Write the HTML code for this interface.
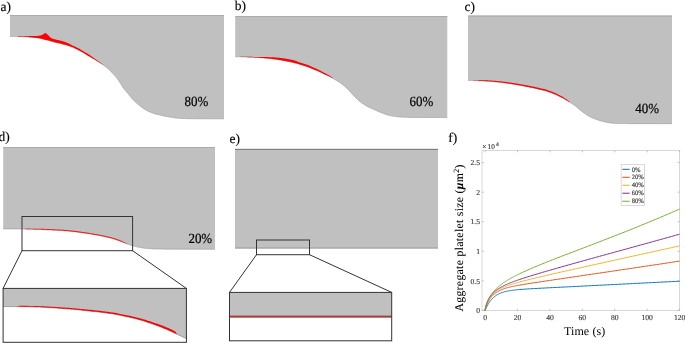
<!DOCTYPE html>
<html><head><meta charset="utf-8"><style>
html,body{margin:0;padding:0;background:#fff;}
body{width:685px;height:343px;overflow:hidden;}
svg{display:block;will-change:transform;}
text{text-rendering:geometricPrecision;}
</style></head><body>
<svg width="685" height="343" viewBox="0 0 685 343">
<path d="M10,15 L224,15 L224,118.80 L224.00,118.80 L223.14,118.80 L222.09,118.80 L220.86,118.80 L219.48,118.80 L217.97,118.81 L216.36,118.81 L214.68,118.81 L212.94,118.81 L211.17,118.81 L209.40,118.81 L207.64,118.81 L205.93,118.81 L204.29,118.81 L202.73,118.81 L201.30,118.81 L200.00,118.80 L198.80,118.79 L197.63,118.79 L196.50,118.78 L195.41,118.77 L194.35,118.76 L193.32,118.74 L192.33,118.73 L191.38,118.72 L190.46,118.71 L189.57,118.69 L188.72,118.68 L187.91,118.66 L187.13,118.65 L186.38,118.63 L185.67,118.62 L185.00,118.60 L184.38,118.58 L183.81,118.57 L183.30,118.55 L182.84,118.54 L182.42,118.52 L182.04,118.50 L181.69,118.49 L181.36,118.47 L181.06,118.45 L180.77,118.43 L180.48,118.41 L180.20,118.39 L179.92,118.37 L179.63,118.35 L179.33,118.32 L179.00,118.30 L178.67,118.27 L178.34,118.25 L178.02,118.22 L177.71,118.20 L177.41,118.17 L177.11,118.14 L176.81,118.11 L176.52,118.08 L176.23,118.05 L175.94,118.02 L175.65,117.99 L175.36,117.95 L175.08,117.92 L174.79,117.88 L174.50,117.84 L174.20,117.80 L173.90,117.76 L173.61,117.71 L173.31,117.67 L173.02,117.62 L172.73,117.57 L172.43,117.52 L172.14,117.47 L171.85,117.42 L171.56,117.37 L171.27,117.31 L170.97,117.26 L170.68,117.21 L170.39,117.15 L170.09,117.10 L169.80,117.05 L169.50,117.00 L169.20,116.95 L168.90,116.90 L168.60,116.85 L168.30,116.81 L168.00,116.76 L167.70,116.71 L167.40,116.67 L167.10,116.62 L166.80,116.57 L166.50,116.52 L166.20,116.47 L165.90,116.42 L165.60,116.37 L165.30,116.31 L165.00,116.26 L164.70,116.20 L164.40,116.14 L164.11,116.08 L163.81,116.01 L163.51,115.94 L163.21,115.88 L162.92,115.81 L162.62,115.73 L162.32,115.66 L162.03,115.59 L161.74,115.52 L161.44,115.45 L161.15,115.37 L160.86,115.30 L160.57,115.23 L160.29,115.17 L160.00,115.10 L159.72,115.04 L159.43,114.97 L159.16,114.91 L158.88,114.85 L158.60,114.80 L158.32,114.74 L158.05,114.68 L157.78,114.62 L157.50,114.57 L157.23,114.51 L156.96,114.45 L156.69,114.38 L156.41,114.32 L156.14,114.25 L155.87,114.18 L155.60,114.10 L155.33,114.02 L155.06,113.94 L154.79,113.86 L154.52,113.77 L154.25,113.68 L153.98,113.60 L153.72,113.51 L153.45,113.41 L153.18,113.32 L152.92,113.22 L152.65,113.12 L152.38,113.02 L152.11,112.92 L151.84,112.81 L151.57,112.71 L151.30,112.60 L151.03,112.49 L150.75,112.38 L150.48,112.27 L150.21,112.15 L149.93,112.04 L149.66,111.92 L149.38,111.80 L149.11,111.67 L148.83,111.55 L148.55,111.42 L148.28,111.29 L148.00,111.16 L147.73,111.03 L147.45,110.89 L147.18,110.75 L146.90,110.60 L146.62,110.45 L146.35,110.30 L146.07,110.15 L145.80,109.99 L145.53,109.83 L145.25,109.67 L144.97,109.51 L144.70,109.34 L144.43,109.17 L144.15,109.00 L143.88,108.83 L143.60,108.65 L143.33,108.47 L143.05,108.28 L142.78,108.09 L142.50,107.90 L142.22,107.70 L141.95,107.50 L141.67,107.30 L141.40,107.09 L141.12,106.88 L140.85,106.66 L140.57,106.45 L140.29,106.23 L140.02,106.00 L139.74,105.78 L139.47,105.55 L139.19,105.32 L138.92,105.09 L138.65,104.86 L138.37,104.63 L138.10,104.40 L137.83,104.17 L137.55,103.93 L137.28,103.69 L137.00,103.45 L136.72,103.21 L136.45,102.97 L136.17,102.72 L135.89,102.47 L135.62,102.23 L135.35,101.98 L135.08,101.73 L134.82,101.48 L134.56,101.24 L134.30,100.99 L134.05,100.74 L133.80,100.50 L133.56,100.26 L133.32,100.01 L133.08,99.76 L132.85,99.52 L132.62,99.27 L132.39,99.02 L132.17,98.77 L131.95,98.53 L131.73,98.28 L131.52,98.03 L131.31,97.79 L131.10,97.55 L130.90,97.31 L130.69,97.07 L130.50,96.83 L130.30,96.60 L130.11,96.37 L129.93,96.15 L129.76,95.93 L129.59,95.71 L129.43,95.50 L129.27,95.29 L129.12,95.08 L128.96,94.87 L128.81,94.66 L128.65,94.45 L128.49,94.23 L128.33,94.01 L128.16,93.79 L127.98,93.57 L127.79,93.34 L127.60,93.10 L127.40,92.86 L127.18,92.62 L126.97,92.38 L126.74,92.13 L126.51,91.89 L126.28,91.64 L126.04,91.39 L125.80,91.13 L125.56,90.87 L125.32,90.61 L125.08,90.34 L124.83,90.06 L124.60,89.78 L124.36,89.50 L124.13,89.20 L123.90,88.90 L123.68,88.59 L123.46,88.27 L123.24,87.94 L123.03,87.60 L122.81,87.26 L122.60,86.91 L122.39,86.56 L122.17,86.20 L121.96,85.84 L121.75,85.48 L121.53,85.11 L121.31,84.75 L121.09,84.38 L120.86,84.02 L120.63,83.66 L120.40,83.30 L120.16,82.94 L119.92,82.58 L119.68,82.22 L119.44,81.86 L119.20,81.50 L118.95,81.14 L118.71,80.78 L118.46,80.41 L118.20,80.05 L117.94,79.68 L117.68,79.32 L117.42,78.95 L117.15,78.59 L116.87,78.23 L116.59,77.86 L116.30,77.50 L116.01,77.14 L115.71,76.77 L115.40,76.40 L115.09,76.04 L114.78,75.67 L114.46,75.30 L114.13,74.93 L113.81,74.56 L113.48,74.20 L113.14,73.83 L112.81,73.47 L112.47,73.11 L112.13,72.75 L111.79,72.40 L111.44,72.05 L111.10,71.70 L110.75,71.35 L110.39,71.01 L110.03,70.66 L109.66,70.31 L109.29,69.96 L108.91,69.62 L108.53,69.28 L108.16,68.94 L107.78,68.60 L107.41,68.28 L107.04,67.96 L106.67,67.65 L106.32,67.34 L105.97,67.05 L105.63,66.77 L105.30,66.50 L104.98,66.24 L104.67,66.00 L104.37,65.76 L104.07,65.54 L103.78,65.33 L103.50,65.12 L103.21,64.92 L102.94,64.72 L102.66,64.54 L102.39,64.35 L102.13,64.17 L101.86,64.00 L101.59,63.82 L101.33,63.65 L101.07,63.47 L100.80,63.30 L100.54,63.13 L100.28,62.96 L100.02,62.80 L99.77,62.65 L99.52,62.49 L99.27,62.35 L99.02,62.20 L98.77,62.06 L98.53,61.91 L98.29,61.77 L98.04,61.63 L97.80,61.49 L97.55,61.34 L97.30,61.20 L97.05,61.05 L96.80,60.90 L96.55,60.75 L96.29,60.59 L96.04,60.44 L95.78,60.28 L95.53,60.12 L95.27,59.97 L95.01,59.81 L94.76,59.65 L94.50,59.49 L94.24,59.33 L93.98,59.18 L93.73,59.02 L93.47,58.86 L93.21,58.71 L92.96,58.55 L92.70,58.40 L92.44,58.25 L92.19,58.10 L91.93,57.95 L91.68,57.80 L91.42,57.65 L91.16,57.50 L90.91,57.35 L90.65,57.20 L90.39,57.05 L90.14,56.90 L89.88,56.75 L89.62,56.60 L89.37,56.45 L89.11,56.30 L88.86,56.15 L88.60,56.00 L88.34,55.85 L88.09,55.69 L87.83,55.54 L87.57,55.38 L87.32,55.22 L87.06,55.07 L86.81,54.91 L86.55,54.75 L86.29,54.59 L86.04,54.43 L85.78,54.28 L85.53,54.12 L85.27,53.96 L85.01,53.81 L84.76,53.65 L84.50,53.50 L84.24,53.35 L83.99,53.19 L83.73,53.04 L83.48,52.89 L83.22,52.73 L82.96,52.58 L82.71,52.43 L82.45,52.28 L82.19,52.12 L81.94,51.97 L81.68,51.82 L81.42,51.68 L81.17,51.53 L80.91,51.38 L80.66,51.24 L80.40,51.10 L80.14,50.96 L79.89,50.82 L79.63,50.68 L79.37,50.55 L79.12,50.41 L78.86,50.28 L78.60,50.14 L78.34,50.01 L78.09,49.88 L77.83,49.75 L77.57,49.62 L77.32,49.50 L77.06,49.37 L76.81,49.25 L76.55,49.12 L76.30,49.00 L76.05,48.88 L75.81,48.76 L75.58,48.65 L75.35,48.54 L75.12,48.43 L74.89,48.32 L74.67,48.21 L74.44,48.11 L74.20,48.00 L73.96,47.89 L73.72,47.78 L73.46,47.67 L73.19,47.56 L72.91,47.44 L72.61,47.32 L72.30,47.20 L71.97,47.07 L71.62,46.94 L71.26,46.80 L70.88,46.66 L70.49,46.52 L70.09,46.37 L69.69,46.23 L69.27,46.08 L68.86,45.94 L68.44,45.79 L68.02,45.65 L67.61,45.51 L67.20,45.37 L66.79,45.24 L66.39,45.12 L66.00,45.00 L65.62,44.89 L65.24,44.78 L64.86,44.68 L64.49,44.58 L64.12,44.48 L63.75,44.39 L63.38,44.30 L63.01,44.21 L62.64,44.13 L62.27,44.04 L61.90,43.95 L61.53,43.87 L61.15,43.78 L60.77,43.69 L60.39,43.60 L60.00,43.50 L59.61,43.40 L59.21,43.30 L58.80,43.21 L58.39,43.11 L57.98,43.01 L57.57,42.91 L57.15,42.81 L56.74,42.71 L56.32,42.61 L55.91,42.50 L55.50,42.40 L55.09,42.30 L54.68,42.20 L54.28,42.10 L53.89,42.00 L53.50,41.90 L53.12,41.80 L52.74,41.70 L52.37,41.60 L52.00,41.50 L51.64,41.39 L51.28,41.29 L50.92,41.19 L50.56,41.09 L50.21,40.99 L49.85,40.89 L49.50,40.79 L49.14,40.69 L48.78,40.59 L48.43,40.49 L48.06,40.39 L47.70,40.30 L47.33,40.21 L46.97,40.11 L46.60,40.02 L46.23,39.93 L45.86,39.84 L45.49,39.75 L45.12,39.66 L44.75,39.57 L44.38,39.48 L44.01,39.39 L43.64,39.31 L43.27,39.22 L42.90,39.14 L42.53,39.06 L42.17,38.98 L41.80,38.90 L41.44,38.82 L41.10,38.75 L40.77,38.67 L40.45,38.60 L40.14,38.53 L39.82,38.46 L39.51,38.39 L39.19,38.32 L38.86,38.25 L38.51,38.18 L38.16,38.12 L37.78,38.05 L37.38,37.99 L36.95,37.93 L36.49,37.86 L36.00,37.80 L35.47,37.74 L34.90,37.67 L34.30,37.61 L33.66,37.55 L33.01,37.48 L32.33,37.42 L31.63,37.36 L30.93,37.30 L30.22,37.24 L29.51,37.18 L28.81,37.13 L28.11,37.08 L27.42,37.03 L26.76,36.98 L26.12,36.94 L25.50,36.90 L24.90,36.86 L24.31,36.83 L23.73,36.80 L23.15,36.78 L22.58,36.75 L22.02,36.73 L21.47,36.71 L20.92,36.69 L20.38,36.68 L19.84,36.66 L19.32,36.65 L18.80,36.64 L18.29,36.63 L17.78,36.62 L17.29,36.61 L16.80,36.60 L16.31,36.59 L15.81,36.59 L15.31,36.58 L14.81,36.58 L14.31,36.58 L13.81,36.58 L13.33,36.58 L12.86,36.58 L12.40,36.58 L11.97,36.59 L11.56,36.59 L11.18,36.59 L10.83,36.60 L10.51,36.60 L10.23,36.60 L10.00,36.60 Z" fill="#c0c0c0"/>
<rect x="10" y="15" width="214.00" height="1" fill="#ababab"/>
<path d="M10.00,36.60 L10.23,36.60 L10.51,36.60 L10.83,36.60 L11.18,36.59 L11.56,36.59 L11.97,36.59 L12.40,36.58 L12.86,36.58 L13.33,36.58 L13.81,36.58 L14.31,36.58 L14.81,36.58 L15.31,36.58 L15.81,36.59 L16.31,36.59 L16.80,36.60 L17.29,36.61 L17.78,36.62 L18.29,36.63 L18.80,36.64 L19.32,36.65 L19.84,36.66 L20.38,36.68 L20.92,36.69 L21.47,36.71 L22.02,36.73 L22.58,36.75 L23.15,36.78 L23.73,36.80 L24.31,36.83 L24.90,36.86 L25.50,36.90 L26.12,36.94 L26.76,36.98 L27.42,37.03 L28.11,37.08 L28.81,37.13 L29.51,37.18 L30.22,37.24 L30.93,37.30 L31.63,37.36 L32.33,37.42 L33.01,37.48 L33.66,37.55 L34.30,37.61 L34.90,37.67 L35.47,37.74 L36.00,37.80 L36.49,37.86 L36.95,37.93 L37.38,37.99 L37.78,38.05 L38.16,38.12 L38.51,38.18 L38.86,38.25 L39.19,38.32 L39.51,38.39 L39.82,38.46 L40.14,38.53 L40.45,38.60 L40.77,38.67 L41.10,38.75 L41.44,38.82 L41.80,38.90 L42.17,38.98 L42.53,39.06 L42.90,39.14 L43.27,39.22 L43.64,39.31 L44.01,39.39 L44.38,39.48 L44.75,39.57 L45.12,39.66 L45.49,39.75 L45.86,39.84 L46.23,39.93 L46.60,40.02 L46.97,40.11 L47.33,40.21 L47.70,40.30 L48.06,40.39 L48.43,40.49 L48.78,40.59 L49.14,40.69 L49.50,40.79 L49.85,40.89 L50.21,40.99 L50.56,41.09 L50.92,41.19 L51.28,41.29 L51.64,41.39 L52.00,41.50 L52.37,41.60 L52.74,41.70 L53.12,41.80 L53.50,41.90 L53.89,42.00 L54.28,42.10 L54.68,42.20 L55.09,42.30 L55.50,42.40 L55.91,42.50 L56.32,42.61 L56.74,42.71 L57.15,42.81 L57.57,42.91 L57.98,43.01 L58.39,43.11 L58.80,43.21 L59.21,43.30 L59.61,43.40 L60.00,43.50 L60.39,43.60 L60.77,43.69 L61.15,43.78 L61.53,43.87 L61.90,43.95 L62.27,44.04 L62.64,44.13 L63.01,44.21 L63.38,44.30 L63.75,44.39 L64.12,44.48 L64.49,44.58 L64.86,44.68 L65.24,44.78 L65.62,44.89 L66.00,45.00 L66.39,45.12 L66.79,45.24 L67.20,45.37 L67.61,45.51 L68.02,45.65 L68.44,45.79 L68.86,45.94 L69.27,46.08 L69.69,46.23 L70.09,46.37 L70.49,46.52 L70.88,46.66 L71.26,46.80 L71.62,46.94 L71.97,47.07 L72.30,47.20 L72.61,47.32 L72.91,47.44 L73.19,47.56 L73.46,47.67 L73.72,47.78 L73.96,47.89 L74.20,48.00 L74.44,48.11 L74.67,48.21 L74.89,48.32 L75.12,48.43 L75.35,48.54 L75.58,48.65 L75.81,48.76 L76.05,48.88 L76.30,49.00 L76.55,49.12 L76.81,49.25 L77.06,49.37 L77.32,49.50 L77.57,49.62 L77.83,49.75 L78.09,49.88 L78.34,50.01 L78.60,50.14 L78.86,50.28 L79.12,50.41 L79.37,50.55 L79.63,50.68 L79.89,50.82 L80.14,50.96 L80.40,51.10 L80.66,51.24 L80.91,51.38 L81.17,51.53 L81.42,51.68 L81.68,51.82 L81.94,51.97 L82.19,52.12 L82.45,52.28 L82.71,52.43 L82.96,52.58 L83.22,52.73 L83.48,52.89 L83.73,53.04 L83.99,53.19 L84.24,53.35 L84.50,53.50 L84.76,53.65 L85.01,53.81 L85.27,53.96 L85.53,54.12 L85.78,54.28 L86.04,54.43 L86.29,54.59 L86.55,54.75 L86.81,54.91 L87.06,55.07 L87.32,55.22 L87.57,55.38 L87.83,55.54 L88.09,55.69 L88.34,55.85 L88.60,56.00 L88.86,56.15 L89.11,56.30 L89.37,56.45 L89.62,56.60 L89.88,56.75 L90.14,56.90 L90.39,57.05 L90.65,57.20 L90.91,57.35 L91.16,57.50 L91.42,57.65 L91.68,57.80 L91.93,57.95 L92.19,58.10 L92.44,58.25 L92.70,58.40 L92.96,58.55 L93.21,58.71 L93.47,58.86 L93.73,59.02 L93.98,59.18 L94.24,59.33 L94.50,59.49 L94.76,59.65 L95.01,59.81 L95.27,59.97 L95.53,60.12 L95.78,60.28 L96.04,60.44 L96.29,60.59 L96.55,60.75 L96.80,60.90 L97.05,61.05 L97.30,61.20 L97.55,61.34 L97.80,61.49 L98.04,61.63 L98.29,61.77 L98.53,61.91 L98.77,62.06 L99.02,62.20 L99.27,62.35 L99.52,62.49 L99.77,62.65 L100.02,62.80 L100.28,62.96 L100.54,63.13 L100.80,63.30 L101.07,63.47 L101.33,63.65 L101.59,63.82 L101.86,64.00 L102.13,64.17 L102.39,64.35 L102.66,64.54 L102.94,64.72 L103.21,64.92 L103.50,65.12 L103.78,65.33 L104.07,65.54 L104.37,65.76 L104.67,66.00 L104.98,66.24 L105.30,66.50 L105.63,66.77 L105.97,67.05 L106.32,67.34 L106.67,67.65 L107.04,67.96 L107.41,68.28 L107.78,68.60 L108.16,68.94 L108.53,69.28 L108.91,69.62 L109.29,69.96 L109.66,70.31 L110.03,70.66 L110.39,71.01 L110.75,71.35 L111.10,71.70 L111.44,72.05 L111.79,72.40 L112.13,72.75 L112.47,73.11 L112.81,73.47 L113.14,73.83 L113.48,74.20 L113.81,74.56 L114.13,74.93 L114.46,75.30 L114.78,75.67 L115.09,76.04 L115.40,76.40 L115.71,76.77 L116.01,77.14 L116.30,77.50 L116.59,77.86 L116.87,78.23 L117.15,78.59 L117.42,78.95 L117.68,79.32 L117.94,79.68 L118.20,80.05 L118.46,80.41 L118.71,80.78 L118.95,81.14 L119.20,81.50 L119.44,81.86 L119.68,82.22 L119.92,82.58 L120.16,82.94 L120.40,83.30 L120.63,83.66 L120.86,84.02 L121.09,84.38 L121.31,84.75 L121.53,85.11 L121.75,85.48 L121.96,85.84 L122.17,86.20 L122.39,86.56 L122.60,86.91 L122.81,87.26 L123.03,87.60 L123.24,87.94 L123.46,88.27 L123.68,88.59 L123.90,88.90 L124.13,89.20 L124.36,89.50 L124.60,89.78 L124.83,90.06 L125.08,90.34 L125.32,90.61 L125.56,90.87 L125.80,91.13 L126.04,91.39 L126.28,91.64 L126.51,91.89 L126.74,92.13 L126.97,92.38 L127.18,92.62 L127.40,92.86 L127.60,93.10 L127.79,93.34 L127.98,93.57 L128.16,93.79 L128.33,94.01 L128.49,94.23 L128.65,94.45 L128.81,94.66 L128.96,94.87 L129.12,95.08 L129.27,95.29 L129.43,95.50 L129.59,95.71 L129.76,95.93 L129.93,96.15 L130.11,96.37 L130.30,96.60 L130.50,96.83 L130.69,97.07 L130.90,97.31 L131.10,97.55 L131.31,97.79 L131.52,98.03 L131.73,98.28 L131.95,98.53 L132.17,98.77 L132.39,99.02 L132.62,99.27 L132.85,99.52 L133.08,99.76 L133.32,100.01 L133.56,100.26 L133.80,100.50 L134.05,100.74 L134.30,100.99 L134.56,101.24 L134.82,101.48 L135.08,101.73 L135.35,101.98 L135.62,102.23 L135.89,102.47 L136.17,102.72 L136.45,102.97 L136.72,103.21 L137.00,103.45 L137.28,103.69 L137.55,103.93 L137.83,104.17 L138.10,104.40 L138.37,104.63 L138.65,104.86 L138.92,105.09 L139.19,105.32 L139.47,105.55 L139.74,105.78 L140.02,106.00 L140.29,106.23 L140.57,106.45 L140.85,106.66 L141.12,106.88 L141.40,107.09 L141.67,107.30 L141.95,107.50 L142.22,107.70 L142.50,107.90 L142.78,108.09 L143.05,108.28 L143.33,108.47 L143.60,108.65 L143.88,108.83 L144.15,109.00 L144.43,109.17 L144.70,109.34 L144.97,109.51 L145.25,109.67 L145.53,109.83 L145.80,109.99 L146.07,110.15 L146.35,110.30 L146.62,110.45 L146.90,110.60 L147.18,110.75 L147.45,110.89 L147.73,111.03 L148.00,111.16 L148.28,111.29 L148.55,111.42 L148.83,111.55 L149.11,111.67 L149.38,111.80 L149.66,111.92 L149.93,112.04 L150.21,112.15 L150.48,112.27 L150.75,112.38 L151.03,112.49 L151.30,112.60 L151.57,112.71 L151.84,112.81 L152.11,112.92 L152.38,113.02 L152.65,113.12 L152.92,113.22 L153.18,113.32 L153.45,113.41 L153.72,113.51 L153.98,113.60 L154.25,113.68 L154.52,113.77 L154.79,113.86 L155.06,113.94 L155.33,114.02 L155.60,114.10 L155.87,114.18 L156.14,114.25 L156.41,114.32 L156.69,114.38 L156.96,114.45 L157.23,114.51 L157.50,114.57 L157.78,114.62 L158.05,114.68 L158.32,114.74 L158.60,114.80 L158.88,114.85 L159.16,114.91 L159.43,114.97 L159.72,115.04 L160.00,115.10 L160.29,115.17 L160.57,115.23 L160.86,115.30 L161.15,115.37 L161.44,115.45 L161.74,115.52 L162.03,115.59 L162.32,115.66 L162.62,115.73 L162.92,115.81 L163.21,115.88 L163.51,115.94 L163.81,116.01 L164.11,116.08 L164.40,116.14 L164.70,116.20 L165.00,116.26 L165.30,116.31 L165.60,116.37 L165.90,116.42 L166.20,116.47 L166.50,116.52 L166.80,116.57 L167.10,116.62 L167.40,116.67 L167.70,116.71 L168.00,116.76 L168.30,116.81 L168.60,116.85 L168.90,116.90 L169.20,116.95 L169.50,117.00 L169.80,117.05 L170.09,117.10 L170.39,117.15 L170.68,117.21 L170.97,117.26 L171.27,117.31 L171.56,117.37 L171.85,117.42 L172.14,117.47 L172.43,117.52 L172.73,117.57 L173.02,117.62 L173.31,117.67 L173.61,117.71 L173.90,117.76 L174.20,117.80 L174.50,117.84 L174.79,117.88 L175.08,117.92 L175.36,117.95 L175.65,117.99 L175.94,118.02 L176.23,118.05 L176.52,118.08 L176.81,118.11 L177.11,118.14 L177.41,118.17 L177.71,118.20 L178.02,118.22 L178.34,118.25 L178.67,118.27 L179.00,118.30 L179.33,118.32 L179.63,118.35 L179.92,118.37 L180.20,118.39 L180.48,118.41 L180.77,118.43 L181.06,118.45 L181.36,118.47 L181.69,118.49 L182.04,118.50 L182.42,118.52 L182.84,118.54 L183.30,118.55 L183.81,118.57 L184.38,118.58 L185.00,118.60 L185.67,118.62 L186.38,118.63 L187.13,118.65 L187.91,118.66 L188.72,118.68 L189.57,118.69 L190.46,118.71 L191.38,118.72 L192.33,118.73 L193.32,118.74 L194.35,118.76 L195.41,118.77 L196.50,118.78 L197.63,118.79 L198.80,118.79 L200.00,118.80 L201.30,118.81 L202.73,118.81 L204.29,118.81 L205.93,118.81 L207.64,118.81 L209.40,118.81 L211.17,118.81 L212.94,118.81 L214.68,118.81 L216.36,118.81 L217.97,118.81 L219.48,118.80 L220.86,118.80 L222.09,118.80 L223.14,118.80 L224.00,118.80" fill="none" stroke="#8a8a8a" stroke-width="0.5"/>
<path d="M13.50,36.60 L14.01,36.58 L14.69,36.54 L15.51,36.50 L16.41,36.46 L17.35,36.41 L18.29,36.37 L19.19,36.33 L20.00,36.30 L20.74,36.28 L21.47,36.26 L22.18,36.25 L22.88,36.24 L23.55,36.23 L24.22,36.22 L24.87,36.21 L25.50,36.20 L26.10,36.19 L26.66,36.17 L27.19,36.16 L27.72,36.15 L28.25,36.14 L28.79,36.12 L29.37,36.11 L30.00,36.10 L30.70,36.09 L31.47,36.08 L32.28,36.07 L33.10,36.06 L33.91,36.05 L34.68,36.04 L35.39,36.02 L36.00,36.00 L36.51,35.97 L36.94,35.95 L37.31,35.92 L37.64,35.88 L37.95,35.84 L38.25,35.80 L38.56,35.75 L38.90,35.70 L39.27,35.64 L39.65,35.58 L40.04,35.51 L40.42,35.44 L40.79,35.37 L41.15,35.29 L41.49,35.20 L41.80,35.10 L42.08,34.99 L42.32,34.88 L42.55,34.75 L42.76,34.62 L42.96,34.49 L43.16,34.36 L43.37,34.23 L43.60,34.10 L43.84,33.96 L44.08,33.79 L44.33,33.61 L44.58,33.44 L44.83,33.28 L45.09,33.17 L45.34,33.10 L45.60,33.10 L45.86,33.17 L46.11,33.30 L46.37,33.48 L46.63,33.69 L46.89,33.93 L47.16,34.19 L47.43,34.45 L47.70,34.70 L47.98,34.96 L48.26,35.24 L48.55,35.55 L48.84,35.86 L49.13,36.17 L49.42,36.46 L49.71,36.75 L50.00,37.00 L50.28,37.23 L50.53,37.44 L50.78,37.63 L51.04,37.82 L51.31,37.99 L51.60,38.16 L51.93,38.33 L52.30,38.50 L52.73,38.67 L53.23,38.84 L53.76,39.00 L54.31,39.16 L54.87,39.31 L55.42,39.45 L55.93,39.58 L56.40,39.70 L56.82,39.80 L57.21,39.89 L57.57,39.96 L57.92,40.02 L58.26,40.09 L58.60,40.15 L58.94,40.22 L59.30,40.30 L59.67,40.39 L60.03,40.48 L60.39,40.57 L60.75,40.66 L61.12,40.76 L61.50,40.87 L61.89,40.98 L62.30,41.10 L62.74,41.23 L63.21,41.38 L63.70,41.53 L64.20,41.69 L64.69,41.85 L65.16,42.00 L65.60,42.16 L66.00,42.30 L66.33,42.43 L66.61,42.54 L66.85,42.64 L67.08,42.74 L67.30,42.85 L67.55,42.98 L67.84,43.12 L68.20,43.30 L68.62,43.51 L69.09,43.75 L69.60,44.02 L70.14,44.30 L70.69,44.59 L71.24,44.87 L71.78,45.14 L72.30,45.40 L72.80,45.64 L73.30,45.86 L73.80,46.08 L74.30,46.29 L74.80,46.51 L75.30,46.73 L75.80,46.96 L76.30,47.20 L76.81,47.45 L77.32,47.71 L77.83,47.98 L78.34,48.26 L78.86,48.54 L79.37,48.82 L79.89,49.11 L80.40,49.40 L80.91,49.70 L81.42,50.01 L81.94,50.32 L82.45,50.64 L82.96,50.96 L83.48,51.27 L83.99,51.59 L84.50,51.90 L85.01,52.20 L85.53,52.50 L86.04,52.79 L86.55,53.08 L87.06,53.37 L87.57,53.67 L88.09,53.98 L88.60,54.30 L89.11,54.64 L89.62,54.99 L90.14,55.35 L90.65,55.72 L91.16,56.09 L91.68,56.46 L92.19,56.83 L92.70,57.20 L93.21,57.56 L93.73,57.93 L94.24,58.29 L94.76,58.66 L95.27,59.02 L95.78,59.38 L96.29,59.74 L96.80,60.10 L97.31,60.46 L97.83,60.81 L98.34,61.17 L98.86,61.52 L99.36,61.88 L99.86,62.22 L100.34,62.57 L100.80,62.90 L101.25,63.23 L101.68,63.57 L102.11,63.91 L102.53,64.24 L102.92,64.56 L103.30,64.86 L103.66,65.14 L104.00,65.40 L104.32,65.64 L104.63,65.86 L104.93,66.07 L105.20,66.26 L105.45,66.43 L105.67,66.57 L105.85,66.70 L106.00,66.80 L106.00,67.08 L104.83,66.12 L103.66,65.24 L102.49,64.42 L101.32,63.64 L100.15,62.88 L98.97,62.17 L97.80,61.49 L96.63,60.80 L95.46,60.08 L94.29,59.36 L93.12,58.65 L91.95,57.96 L90.78,57.27 L89.61,56.59 L88.44,55.90 L87.27,55.19 L86.09,54.47 L84.92,53.75 L83.75,53.05 L82.58,52.35 L81.41,51.67 L80.24,51.01 L79.07,50.39 L77.90,49.79 L76.73,49.21 L75.56,48.64 L74.39,48.08 L73.22,47.57 L72.04,47.10 L70.87,46.66 L69.70,46.23 L68.53,45.82 L67.36,45.43 L66.19,45.06 L65.02,44.72 L63.85,44.42 L62.68,44.13 L61.51,43.86 L60.34,43.58 L59.16,43.29 L57.99,43.01 L56.82,42.73 L55.65,42.44 L54.48,42.15 L53.31,41.85 L52.14,41.53 L50.97,41.20 L49.80,40.87 L48.63,40.55 L47.46,40.24 L46.28,39.94 L45.11,39.66 L43.94,39.38 L42.77,39.11 L41.60,38.86 L40.43,38.59 L39.26,38.33 L38.09,38.11 L36.92,37.92 L35.75,37.77 L34.58,37.64 L33.41,37.52 L32.23,37.41 L31.06,37.31 L29.89,37.22 L28.72,37.12 L27.55,37.04 L26.38,36.96 L25.21,36.88 L24.04,36.82 L22.87,36.76 L21.70,36.72 L20.53,36.68 L19.35,36.65 L18.18,36.63 L17.01,36.60 L15.84,36.59 L14.67,36.58 L13.50,36.58 Z" fill="#ff0000"/>
<path d="M235.2,16 L447.3,16 L447.3,117.50 L447.30,117.50 L445.94,117.50 L444.22,117.49 L442.20,117.49 L439.92,117.49 L437.42,117.48 L434.77,117.48 L432.00,117.47 L429.17,117.47 L426.32,117.46 L423.50,117.46 L420.77,117.45 L418.16,117.44 L415.73,117.43 L413.53,117.42 L411.60,117.41 L410.00,117.40 L408.68,117.39 L407.55,117.37 L406.61,117.36 L405.82,117.34 L405.17,117.33 L404.64,117.31 L404.21,117.29 L403.86,117.27 L403.57,117.26 L403.33,117.24 L403.11,117.22 L402.89,117.19 L402.66,117.17 L402.40,117.15 L402.09,117.12 L401.70,117.10 L401.28,117.07 L400.89,117.05 L400.51,117.02 L400.14,117.00 L399.79,116.97 L399.46,116.94 L399.13,116.91 L398.81,116.88 L398.50,116.85 L398.19,116.82 L397.88,116.79 L397.58,116.75 L397.26,116.72 L396.95,116.68 L396.63,116.64 L396.30,116.60 L395.97,116.56 L395.63,116.52 L395.30,116.48 L394.97,116.44 L394.64,116.39 L394.31,116.35 L393.97,116.30 L393.64,116.26 L393.31,116.21 L392.98,116.16 L392.65,116.10 L392.32,116.05 L391.99,115.99 L391.66,115.93 L391.33,115.87 L391.00,115.80 L390.67,115.73 L390.35,115.66 L390.04,115.60 L389.73,115.53 L389.42,115.46 L389.12,115.39 L388.81,115.32 L388.50,115.24 L388.18,115.16 L387.86,115.07 L387.53,114.98 L387.19,114.88 L386.84,114.77 L386.48,114.66 L386.10,114.53 L385.70,114.40 L385.28,114.26 L384.84,114.10 L384.37,113.93 L383.89,113.75 L383.39,113.56 L382.88,113.37 L382.37,113.17 L381.85,112.96 L381.33,112.76 L380.82,112.55 L380.31,112.35 L379.81,112.15 L379.33,111.95 L378.86,111.76 L378.42,111.57 L378.00,111.40 L377.60,111.23 L377.22,111.07 L376.85,110.91 L376.50,110.76 L376.16,110.60 L375.82,110.45 L375.50,110.30 L375.18,110.16 L374.87,110.01 L374.56,109.87 L374.25,109.72 L373.95,109.58 L373.64,109.44 L373.33,109.29 L373.02,109.15 L372.70,109.00 L372.38,108.85 L372.06,108.71 L371.74,108.57 L371.43,108.43 L371.11,108.30 L370.80,108.16 L370.49,108.02 L370.17,107.89 L369.86,107.75 L369.55,107.61 L369.25,107.47 L368.94,107.32 L368.63,107.17 L368.32,107.02 L368.01,106.86 L367.70,106.70 L367.39,106.53 L367.08,106.36 L366.78,106.19 L366.47,106.02 L366.16,105.84 L365.86,105.67 L365.55,105.48 L365.25,105.30 L364.95,105.11 L364.64,104.92 L364.34,104.73 L364.03,104.53 L363.72,104.33 L363.42,104.12 L363.11,103.91 L362.80,103.70 L362.49,103.48 L362.18,103.26 L361.87,103.04 L361.55,102.81 L361.24,102.58 L360.93,102.35 L360.61,102.12 L360.30,101.88 L359.99,101.63 L359.67,101.38 L359.36,101.13 L359.05,100.87 L358.73,100.61 L358.42,100.35 L358.11,100.08 L357.80,99.80 L357.49,99.52 L357.18,99.23 L356.88,98.94 L356.57,98.64 L356.26,98.33 L355.96,98.02 L355.65,97.71 L355.35,97.39 L355.05,97.07 L354.74,96.75 L354.44,96.43 L354.13,96.10 L353.82,95.78 L353.52,95.45 L353.21,95.13 L352.90,94.80 L352.59,94.47 L352.28,94.14 L351.97,93.80 L351.65,93.46 L351.34,93.11 L351.03,92.76 L350.71,92.42 L350.40,92.07 L350.09,91.72 L349.77,91.38 L349.46,91.03 L349.15,90.70 L348.83,90.36 L348.52,90.03 L348.21,89.71 L347.90,89.40 L347.59,89.09 L347.28,88.79 L346.98,88.48 L346.67,88.19 L346.36,87.89 L346.06,87.60 L345.75,87.31 L345.45,87.02 L345.15,86.74 L344.84,86.47 L344.54,86.19 L344.23,85.93 L343.92,85.66 L343.62,85.40 L343.31,85.15 L343.00,84.90 L342.69,84.65 L342.37,84.41 L342.04,84.17 L341.71,83.94 L341.38,83.70 L341.04,83.47 L340.71,83.25 L340.38,83.03 L340.05,82.82 L339.73,82.61 L339.42,82.41 L339.11,82.21 L338.82,82.02 L338.53,81.84 L338.26,81.67 L338.00,81.50 L337.76,81.35 L337.54,81.20 L337.33,81.07 L337.14,80.96 L336.96,80.85 L336.79,80.74 L336.62,80.64 L336.46,80.55 L336.30,80.46 L336.14,80.36 L335.97,80.27 L335.80,80.17 L335.62,80.06 L335.43,79.95 L335.22,79.83 L335.00,79.70 L334.76,79.56 L334.52,79.41 L334.26,79.25 L334.00,79.09 L333.73,78.93 L333.45,78.76 L333.17,78.59 L332.88,78.41 L332.59,78.24 L332.30,78.07 L332.01,77.90 L331.73,77.73 L331.44,77.56 L331.15,77.40 L330.87,77.25 L330.60,77.10 L330.33,76.96 L330.06,76.82 L329.79,76.69 L329.52,76.56 L329.25,76.43 L328.98,76.31 L328.72,76.19 L328.45,76.07 L328.18,75.95 L327.92,75.83 L327.65,75.71 L327.38,75.59 L327.11,75.47 L326.84,75.35 L326.57,75.23 L326.30,75.10 L326.03,74.97 L325.75,74.84 L325.48,74.71 L325.21,74.58 L324.93,74.45 L324.66,74.32 L324.38,74.19 L324.11,74.06 L323.83,73.92 L323.55,73.79 L323.28,73.66 L323.00,73.53 L322.73,73.40 L322.45,73.26 L322.18,73.13 L321.90,73.00 L321.62,72.87 L321.35,72.73 L321.07,72.60 L320.80,72.47 L320.52,72.33 L320.25,72.19 L319.97,72.06 L319.70,71.92 L319.42,71.79 L319.15,71.66 L318.88,71.53 L318.60,71.40 L318.32,71.27 L318.05,71.14 L317.77,71.02 L317.50,70.90 L317.22,70.78 L316.95,70.67 L316.67,70.56 L316.40,70.45 L316.12,70.34 L315.85,70.24 L315.57,70.13 L315.29,70.03 L315.02,69.93 L314.74,69.83 L314.47,69.73 L314.19,69.62 L313.92,69.52 L313.65,69.41 L313.37,69.31 L313.10,69.20 L312.83,69.09 L312.57,68.98 L312.32,68.87 L312.08,68.77 L311.83,68.66 L311.59,68.55 L311.35,68.44 L311.10,68.33 L310.85,68.22 L310.59,68.11 L310.33,68.00 L310.05,67.88 L309.76,67.76 L309.46,67.64 L309.14,67.52 L308.80,67.40 L308.45,67.27 L308.08,67.15 L307.70,67.02 L307.31,66.89 L306.91,66.75 L306.50,66.62 L306.08,66.48 L305.66,66.34 L305.22,66.20 L304.78,66.06 L304.33,65.92 L303.87,65.78 L303.41,65.64 L302.94,65.49 L302.47,65.35 L302.00,65.20 L301.52,65.05 L301.04,64.90 L300.55,64.74 L300.05,64.58 L299.54,64.42 L299.03,64.26 L298.52,64.10 L297.99,63.94 L297.46,63.78 L296.93,63.61 L296.39,63.45 L295.84,63.30 L295.29,63.14 L294.73,62.99 L294.17,62.84 L293.60,62.70 L293.02,62.56 L292.43,62.42 L291.84,62.29 L291.23,62.16 L290.62,62.02 L290.00,61.90 L289.38,61.77 L288.75,61.64 L288.12,61.52 L287.49,61.40 L286.85,61.28 L286.22,61.16 L285.58,61.04 L284.95,60.93 L284.32,60.81 L283.70,60.70 L283.08,60.59 L282.45,60.48 L281.83,60.37 L281.20,60.26 L280.58,60.15 L279.95,60.04 L279.33,59.94 L278.70,59.84 L278.07,59.74 L277.45,59.64 L276.82,59.54 L276.20,59.45 L275.57,59.36 L274.95,59.27 L274.32,59.18 L273.70,59.10 L273.08,59.02 L272.46,58.94 L271.84,58.87 L271.22,58.80 L270.60,58.73 L269.98,58.67 L269.36,58.60 L268.74,58.54 L268.13,58.48 L267.51,58.43 L266.89,58.37 L266.27,58.31 L265.65,58.26 L265.04,58.21 L264.42,58.15 L263.80,58.10 L263.18,58.05 L262.56,58.00 L261.95,57.95 L261.33,57.90 L260.71,57.85 L260.09,57.80 L259.47,57.76 L258.86,57.71 L258.24,57.67 L257.62,57.63 L257.00,57.59 L256.38,57.55 L255.76,57.51 L255.14,57.47 L254.52,57.43 L253.90,57.40 L253.28,57.37 L252.65,57.33 L252.01,57.31 L251.38,57.28 L250.74,57.25 L250.10,57.22 L249.46,57.20 L248.83,57.17 L248.19,57.15 L247.56,57.13 L246.93,57.11 L246.31,57.09 L245.70,57.06 L245.09,57.04 L244.49,57.02 L243.90,57.00 L243.30,56.98 L242.69,56.96 L242.06,56.93 L241.43,56.91 L240.79,56.89 L240.16,56.87 L239.54,56.85 L238.93,56.83 L238.33,56.81 L237.77,56.79 L237.23,56.77 L236.73,56.75 L236.27,56.74 L235.86,56.72 L235.50,56.71 L235.20,56.70 Z" fill="#c0c0c0"/>
<rect x="235.2" y="16" width="212.10" height="1" fill="#ababab"/>
<path d="M235.20,56.70 L235.50,56.71 L235.86,56.72 L236.27,56.74 L236.73,56.75 L237.23,56.77 L237.77,56.79 L238.33,56.81 L238.93,56.83 L239.54,56.85 L240.16,56.87 L240.79,56.89 L241.43,56.91 L242.06,56.93 L242.69,56.96 L243.30,56.98 L243.90,57.00 L244.49,57.02 L245.09,57.04 L245.70,57.06 L246.31,57.09 L246.93,57.11 L247.56,57.13 L248.19,57.15 L248.83,57.17 L249.46,57.20 L250.10,57.22 L250.74,57.25 L251.38,57.28 L252.01,57.31 L252.65,57.33 L253.28,57.37 L253.90,57.40 L254.52,57.43 L255.14,57.47 L255.76,57.51 L256.38,57.55 L257.00,57.59 L257.62,57.63 L258.24,57.67 L258.86,57.71 L259.47,57.76 L260.09,57.80 L260.71,57.85 L261.33,57.90 L261.95,57.95 L262.56,58.00 L263.18,58.05 L263.80,58.10 L264.42,58.15 L265.04,58.21 L265.65,58.26 L266.27,58.31 L266.89,58.37 L267.51,58.43 L268.13,58.48 L268.74,58.54 L269.36,58.60 L269.98,58.67 L270.60,58.73 L271.22,58.80 L271.84,58.87 L272.46,58.94 L273.08,59.02 L273.70,59.10 L274.32,59.18 L274.95,59.27 L275.57,59.36 L276.20,59.45 L276.82,59.54 L277.45,59.64 L278.07,59.74 L278.70,59.84 L279.33,59.94 L279.95,60.04 L280.58,60.15 L281.20,60.26 L281.83,60.37 L282.45,60.48 L283.08,60.59 L283.70,60.70 L284.32,60.81 L284.95,60.93 L285.58,61.04 L286.22,61.16 L286.85,61.28 L287.49,61.40 L288.12,61.52 L288.75,61.64 L289.38,61.77 L290.00,61.90 L290.62,62.02 L291.23,62.16 L291.84,62.29 L292.43,62.42 L293.02,62.56 L293.60,62.70 L294.17,62.84 L294.73,62.99 L295.29,63.14 L295.84,63.30 L296.39,63.45 L296.93,63.61 L297.46,63.78 L297.99,63.94 L298.52,64.10 L299.03,64.26 L299.54,64.42 L300.05,64.58 L300.55,64.74 L301.04,64.90 L301.52,65.05 L302.00,65.20 L302.47,65.35 L302.94,65.49 L303.41,65.64 L303.87,65.78 L304.33,65.92 L304.78,66.06 L305.22,66.20 L305.66,66.34 L306.08,66.48 L306.50,66.62 L306.91,66.75 L307.31,66.89 L307.70,67.02 L308.08,67.15 L308.45,67.27 L308.80,67.40 L309.14,67.52 L309.46,67.64 L309.76,67.76 L310.05,67.88 L310.33,68.00 L310.59,68.11 L310.85,68.22 L311.10,68.33 L311.35,68.44 L311.59,68.55 L311.83,68.66 L312.08,68.77 L312.32,68.87 L312.57,68.98 L312.83,69.09 L313.10,69.20 L313.37,69.31 L313.65,69.41 L313.92,69.52 L314.19,69.62 L314.47,69.73 L314.74,69.83 L315.02,69.93 L315.29,70.03 L315.57,70.13 L315.85,70.24 L316.12,70.34 L316.40,70.45 L316.67,70.56 L316.95,70.67 L317.22,70.78 L317.50,70.90 L317.77,71.02 L318.05,71.14 L318.32,71.27 L318.60,71.40 L318.88,71.53 L319.15,71.66 L319.42,71.79 L319.70,71.92 L319.97,72.06 L320.25,72.19 L320.52,72.33 L320.80,72.47 L321.07,72.60 L321.35,72.73 L321.62,72.87 L321.90,73.00 L322.18,73.13 L322.45,73.26 L322.73,73.40 L323.00,73.53 L323.28,73.66 L323.55,73.79 L323.83,73.92 L324.11,74.06 L324.38,74.19 L324.66,74.32 L324.93,74.45 L325.21,74.58 L325.48,74.71 L325.75,74.84 L326.03,74.97 L326.30,75.10 L326.57,75.23 L326.84,75.35 L327.11,75.47 L327.38,75.59 L327.65,75.71 L327.92,75.83 L328.18,75.95 L328.45,76.07 L328.72,76.19 L328.98,76.31 L329.25,76.43 L329.52,76.56 L329.79,76.69 L330.06,76.82 L330.33,76.96 L330.60,77.10 L330.87,77.25 L331.15,77.40 L331.44,77.56 L331.73,77.73 L332.01,77.90 L332.30,78.07 L332.59,78.24 L332.88,78.41 L333.17,78.59 L333.45,78.76 L333.73,78.93 L334.00,79.09 L334.26,79.25 L334.52,79.41 L334.76,79.56 L335.00,79.70 L335.22,79.83 L335.43,79.95 L335.62,80.06 L335.80,80.17 L335.97,80.27 L336.14,80.36 L336.30,80.46 L336.46,80.55 L336.62,80.64 L336.79,80.74 L336.96,80.85 L337.14,80.96 L337.33,81.07 L337.54,81.20 L337.76,81.35 L338.00,81.50 L338.26,81.67 L338.53,81.84 L338.82,82.02 L339.11,82.21 L339.42,82.41 L339.73,82.61 L340.05,82.82 L340.38,83.03 L340.71,83.25 L341.04,83.47 L341.38,83.70 L341.71,83.94 L342.04,84.17 L342.37,84.41 L342.69,84.65 L343.00,84.90 L343.31,85.15 L343.62,85.40 L343.92,85.66 L344.23,85.93 L344.54,86.19 L344.84,86.47 L345.15,86.74 L345.45,87.02 L345.75,87.31 L346.06,87.60 L346.36,87.89 L346.67,88.19 L346.98,88.48 L347.28,88.79 L347.59,89.09 L347.90,89.40 L348.21,89.71 L348.52,90.03 L348.83,90.36 L349.15,90.70 L349.46,91.03 L349.77,91.38 L350.09,91.72 L350.40,92.07 L350.71,92.42 L351.03,92.76 L351.34,93.11 L351.65,93.46 L351.97,93.80 L352.28,94.14 L352.59,94.47 L352.90,94.80 L353.21,95.13 L353.52,95.45 L353.82,95.78 L354.13,96.10 L354.44,96.43 L354.74,96.75 L355.05,97.07 L355.35,97.39 L355.65,97.71 L355.96,98.02 L356.26,98.33 L356.57,98.64 L356.88,98.94 L357.18,99.23 L357.49,99.52 L357.80,99.80 L358.11,100.08 L358.42,100.35 L358.73,100.61 L359.05,100.87 L359.36,101.13 L359.67,101.38 L359.99,101.63 L360.30,101.88 L360.61,102.12 L360.93,102.35 L361.24,102.58 L361.55,102.81 L361.87,103.04 L362.18,103.26 L362.49,103.48 L362.80,103.70 L363.11,103.91 L363.42,104.12 L363.72,104.33 L364.03,104.53 L364.34,104.73 L364.64,104.92 L364.95,105.11 L365.25,105.30 L365.55,105.48 L365.86,105.67 L366.16,105.84 L366.47,106.02 L366.78,106.19 L367.08,106.36 L367.39,106.53 L367.70,106.70 L368.01,106.86 L368.32,107.02 L368.63,107.17 L368.94,107.32 L369.25,107.47 L369.55,107.61 L369.86,107.75 L370.17,107.89 L370.49,108.02 L370.80,108.16 L371.11,108.30 L371.43,108.43 L371.74,108.57 L372.06,108.71 L372.38,108.85 L372.70,109.00 L373.02,109.15 L373.33,109.29 L373.64,109.44 L373.95,109.58 L374.25,109.72 L374.56,109.87 L374.87,110.01 L375.18,110.16 L375.50,110.30 L375.82,110.45 L376.16,110.60 L376.50,110.76 L376.85,110.91 L377.22,111.07 L377.60,111.23 L378.00,111.40 L378.42,111.57 L378.86,111.76 L379.33,111.95 L379.81,112.15 L380.31,112.35 L380.82,112.55 L381.33,112.76 L381.85,112.96 L382.37,113.17 L382.88,113.37 L383.39,113.56 L383.89,113.75 L384.37,113.93 L384.84,114.10 L385.28,114.26 L385.70,114.40 L386.10,114.53 L386.48,114.66 L386.84,114.77 L387.19,114.88 L387.53,114.98 L387.86,115.07 L388.18,115.16 L388.50,115.24 L388.81,115.32 L389.12,115.39 L389.42,115.46 L389.73,115.53 L390.04,115.60 L390.35,115.66 L390.67,115.73 L391.00,115.80 L391.33,115.87 L391.66,115.93 L391.99,115.99 L392.32,116.05 L392.65,116.10 L392.98,116.16 L393.31,116.21 L393.64,116.26 L393.97,116.30 L394.31,116.35 L394.64,116.39 L394.97,116.44 L395.30,116.48 L395.63,116.52 L395.97,116.56 L396.30,116.60 L396.63,116.64 L396.95,116.68 L397.26,116.72 L397.58,116.75 L397.88,116.79 L398.19,116.82 L398.50,116.85 L398.81,116.88 L399.13,116.91 L399.46,116.94 L399.79,116.97 L400.14,117.00 L400.51,117.02 L400.89,117.05 L401.28,117.07 L401.70,117.10 L402.09,117.12 L402.40,117.15 L402.66,117.17 L402.89,117.19 L403.11,117.22 L403.33,117.24 L403.57,117.26 L403.86,117.27 L404.21,117.29 L404.64,117.31 L405.17,117.33 L405.82,117.34 L406.61,117.36 L407.55,117.37 L408.68,117.39 L410.00,117.40 L411.60,117.41 L413.53,117.42 L415.73,117.43 L418.16,117.44 L420.77,117.45 L423.50,117.46 L426.32,117.46 L429.17,117.47 L432.00,117.47 L434.77,117.48 L437.42,117.48 L439.92,117.49 L442.20,117.49 L444.22,117.49 L445.94,117.50 L447.30,117.50" fill="none" stroke="#8a8a8a" stroke-width="0.5"/>
<path d="M240.00,56.86 L240.79,56.85 L241.58,56.84 L242.37,56.83 L243.16,56.81 L243.95,56.80 L244.74,56.79 L245.53,56.78 L246.32,56.78 L247.11,56.79 L247.90,56.79 L248.69,56.80 L249.48,56.81 L250.27,56.82 L251.06,56.84 L251.85,56.85 L252.64,56.87 L253.43,56.89 L254.22,56.90 L255.01,56.90 L255.80,56.90 L256.59,56.90 L257.38,56.91 L258.17,56.91 L258.96,56.92 L259.75,56.93 L260.54,56.94 L261.33,56.96 L262.12,56.97 L262.91,56.99 L263.70,57.01 L264.49,57.02 L265.28,57.04 L266.07,57.05 L266.86,57.07 L267.65,57.08 L268.44,57.10 L269.23,57.13 L270.02,57.15 L270.81,57.18 L271.60,57.21 L272.39,57.25 L273.18,57.29 L273.97,57.34 L274.76,57.40 L275.55,57.46 L276.34,57.53 L277.13,57.60 L277.92,57.68 L278.71,57.76 L279.50,57.84 L280.29,57.92 L281.08,58.01 L281.87,58.10 L282.66,58.19 L283.45,58.29 L284.24,58.39 L285.03,58.53 L285.82,58.67 L286.61,58.81 L287.39,58.95 L288.18,59.09 L288.97,59.24 L289.76,59.39 L290.55,59.55 L291.34,59.71 L292.13,59.87 L292.92,60.05 L293.71,60.23 L294.50,60.47 L295.29,60.75 L296.08,61.04 L296.87,61.34 L297.66,61.64 L298.45,61.95 L299.24,62.27 L300.03,62.58 L300.82,62.83 L301.61,63.08 L302.40,63.32 L303.19,63.57 L303.98,63.82 L304.77,64.06 L305.56,64.31 L306.35,64.57 L307.14,64.83 L307.93,65.10 L308.72,65.37 L309.51,65.69 L310.30,66.03 L311.09,66.41 L311.88,66.79 L312.67,67.16 L313.46,67.51 L314.25,67.84 L315.04,68.16 L315.83,68.49 L316.62,68.82 L317.41,69.18 L318.20,69.57 L318.99,69.97 L319.78,70.39 L320.57,70.81 L321.36,71.23 L322.15,71.65 L322.94,72.06 L323.73,72.48 L324.52,72.89 L325.31,73.30 L326.10,73.72 L326.89,74.16 L327.68,74.59 L328.47,75.03 L329.26,75.46 L330.05,75.92 L330.84,76.41 L331.63,77.04 L332.42,77.71 L333.21,78.40 L334.00,79.09 L334.00,79.09 L333.21,78.61 L332.42,78.14 L331.63,77.67 L330.84,77.23 L330.05,76.82 L329.26,76.44 L328.47,76.08 L327.68,75.73 L326.89,75.37 L326.10,75.01 L325.31,74.63 L324.52,74.25 L323.73,73.88 L322.94,73.50 L322.15,73.12 L321.36,72.74 L320.57,72.35 L319.78,71.96 L318.99,71.58 L318.20,71.21 L317.41,70.86 L316.62,70.54 L315.83,70.23 L315.04,69.94 L314.25,69.64 L313.46,69.34 L312.67,69.02 L311.88,68.68 L311.09,68.33 L310.30,67.99 L309.51,67.67 L308.72,67.37 L307.93,67.10 L307.14,66.83 L306.35,66.57 L305.56,66.31 L304.77,66.06 L303.98,65.82 L303.19,65.57 L302.40,65.32 L301.61,65.08 L300.82,64.83 L300.03,64.58 L299.24,64.33 L298.45,64.08 L297.66,63.84 L296.87,63.60 L296.08,63.37 L295.29,63.14 L294.50,62.93 L293.71,62.73 L292.92,62.54 L292.13,62.36 L291.34,62.18 L290.55,62.01 L289.76,61.85 L288.97,61.69 L288.18,61.53 L287.39,61.38 L286.61,61.23 L285.82,61.09 L285.03,60.94 L284.24,60.80 L283.45,60.65 L282.66,60.51 L281.87,60.37 L281.08,60.24 L280.29,60.10 L279.50,59.97 L278.71,59.84 L277.92,59.71 L277.13,59.59 L276.34,59.47 L275.55,59.35 L274.76,59.24 L273.97,59.14 L273.18,59.03 L272.39,58.94 L271.60,58.84 L270.81,58.76 L270.02,58.67 L269.23,58.59 L268.44,58.51 L267.65,58.44 L266.86,58.37 L266.07,58.30 L265.28,58.23 L264.49,58.16 L263.70,58.09 L262.91,58.02 L262.12,57.96 L261.33,57.90 L260.54,57.84 L259.75,57.78 L258.96,57.72 L258.17,57.66 L257.38,57.61 L256.59,57.56 L255.80,57.51 L255.01,57.46 L254.22,57.42 L253.43,57.37 L252.64,57.33 L251.85,57.30 L251.06,57.26 L250.27,57.23 L249.48,57.20 L248.69,57.17 L247.90,57.14 L247.11,57.11 L246.32,57.09 L245.53,57.06 L244.74,57.03 L243.95,57.00 L243.16,56.97 L242.37,56.94 L241.58,56.92 L240.79,56.89 L240.00,56.86 Z" fill="#ff0000"/>
<path d="M468,15.6 L672,15.6 L672,123.70 L672.00,123.70 L670.18,123.70 L667.87,123.69 L665.14,123.69 L662.07,123.69 L658.71,123.68 L655.13,123.68 L651.40,123.67 L647.59,123.67 L643.76,123.66 L639.99,123.66 L636.33,123.65 L632.86,123.64 L629.65,123.63 L626.76,123.62 L624.25,123.61 L622.20,123.60 L620.55,123.59 L619.19,123.57 L618.08,123.56 L617.21,123.54 L616.53,123.52 L616.03,123.50 L615.68,123.48 L615.44,123.46 L615.29,123.44 L615.20,123.42 L615.15,123.40 L615.10,123.38 L615.03,123.36 L614.91,123.34 L614.71,123.32 L614.40,123.30 L614.05,123.28 L613.72,123.27 L613.41,123.25 L613.13,123.23 L612.87,123.22 L612.62,123.21 L612.38,123.19 L612.16,123.17 L611.94,123.16 L611.73,123.14 L611.52,123.12 L611.30,123.10 L611.09,123.08 L610.87,123.06 L610.64,123.03 L610.40,123.00 L610.15,122.97 L609.91,122.93 L609.66,122.90 L609.42,122.86 L609.17,122.82 L608.93,122.78 L608.69,122.73 L608.44,122.69 L608.20,122.64 L607.96,122.59 L607.72,122.55 L607.47,122.50 L607.23,122.45 L606.99,122.40 L606.74,122.35 L606.50,122.30 L606.26,122.25 L606.01,122.20 L605.77,122.15 L605.53,122.09 L605.28,122.04 L605.04,121.99 L604.80,121.93 L604.56,121.88 L604.31,121.82 L604.07,121.76 L603.83,121.70 L603.58,121.64 L603.34,121.58 L603.09,121.52 L602.85,121.46 L602.60,121.40 L602.35,121.34 L602.10,121.27 L601.85,121.21 L601.60,121.15 L601.35,121.08 L601.10,121.02 L600.85,120.95 L600.60,120.88 L600.35,120.81 L600.10,120.74 L599.85,120.67 L599.60,120.60 L599.35,120.53 L599.10,120.45 L598.85,120.38 L598.60,120.30 L598.35,120.22 L598.11,120.14 L597.86,120.06 L597.62,119.98 L597.38,119.89 L597.13,119.81 L596.89,119.72 L596.65,119.64 L596.41,119.55 L596.17,119.46 L595.92,119.37 L595.68,119.28 L595.44,119.19 L595.19,119.09 L594.95,119.00 L594.70,118.90 L594.45,118.80 L594.20,118.71 L593.95,118.61 L593.70,118.51 L593.45,118.41 L593.20,118.31 L592.95,118.20 L592.70,118.10 L592.45,117.99 L592.20,117.89 L591.95,117.78 L591.70,117.67 L591.45,117.55 L591.20,117.44 L590.95,117.32 L590.70,117.20 L590.45,117.08 L590.21,116.95 L589.96,116.83 L589.72,116.70 L589.47,116.57 L589.23,116.44 L588.99,116.30 L588.74,116.17 L588.50,116.03 L588.26,115.89 L588.02,115.75 L587.77,115.60 L587.53,115.46 L587.29,115.31 L587.04,115.15 L586.80,115.00 L586.56,114.84 L586.31,114.68 L586.07,114.52 L585.83,114.35 L585.58,114.18 L585.34,114.01 L585.10,113.83 L584.86,113.66 L584.61,113.48 L584.37,113.30 L584.13,113.12 L583.88,112.94 L583.64,112.75 L583.39,112.57 L583.15,112.38 L582.90,112.20 L582.65,112.02 L582.40,111.83 L582.15,111.64 L581.90,111.45 L581.65,111.26 L581.40,111.07 L581.15,110.88 L580.90,110.69 L580.65,110.49 L580.40,110.30 L580.15,110.10 L579.90,109.90 L579.65,109.70 L579.40,109.50 L579.15,109.30 L578.90,109.10 L578.65,108.89 L578.41,108.69 L578.17,108.47 L577.93,108.26 L577.69,108.04 L577.45,107.82 L577.21,107.60 L576.97,107.38 L576.74,107.16 L576.49,106.94 L576.25,106.73 L576.01,106.51 L575.76,106.30 L575.51,106.10 L575.26,105.90 L575.00,105.70 L574.74,105.51 L574.47,105.32 L574.20,105.14 L573.93,104.96 L573.66,104.78 L573.38,104.61 L573.10,104.43 L572.83,104.26 L572.54,104.09 L572.26,103.92 L571.98,103.75 L571.70,103.59 L571.43,103.42 L571.15,103.25 L570.87,103.07 L570.60,102.90 L570.33,102.72 L570.06,102.55 L569.79,102.37 L569.52,102.19 L569.25,102.01 L568.98,101.83 L568.72,101.65 L568.45,101.47 L568.18,101.30 L567.92,101.12 L567.65,100.95 L567.38,100.77 L567.11,100.60 L566.84,100.43 L566.57,100.26 L566.30,100.10 L566.03,99.94 L565.75,99.78 L565.48,99.62 L565.21,99.47 L564.93,99.31 L564.66,99.16 L564.38,99.01 L564.11,98.86 L563.83,98.71 L563.55,98.57 L563.28,98.42 L563.00,98.28 L562.73,98.13 L562.45,97.99 L562.18,97.84 L561.90,97.70 L561.62,97.56 L561.35,97.41 L561.08,97.27 L560.80,97.13 L560.52,96.99 L560.25,96.85 L559.98,96.71 L559.70,96.57 L559.43,96.43 L559.15,96.29 L558.88,96.16 L558.60,96.02 L558.32,95.89 L558.05,95.76 L557.77,95.63 L557.50,95.50 L557.22,95.37 L556.95,95.25 L556.67,95.12 L556.40,95.00 L556.12,94.87 L555.85,94.75 L555.57,94.63 L555.29,94.51 L555.02,94.39 L554.74,94.28 L554.47,94.16 L554.19,94.05 L553.92,93.93 L553.65,93.82 L553.37,93.71 L553.10,93.60 L552.83,93.49 L552.56,93.38 L552.29,93.28 L552.02,93.17 L551.75,93.07 L551.48,92.97 L551.22,92.87 L550.95,92.77 L550.68,92.67 L550.42,92.57 L550.15,92.48 L549.88,92.38 L549.61,92.28 L549.34,92.19 L549.07,92.09 L548.80,92.00 L548.53,91.91 L548.25,91.81 L547.98,91.72 L547.71,91.63 L547.43,91.53 L547.16,91.44 L546.88,91.35 L546.61,91.26 L546.33,91.17 L546.05,91.09 L545.78,91.00 L545.50,90.92 L545.23,90.83 L544.95,90.75 L544.68,90.68 L544.40,90.60 L544.13,90.53 L543.87,90.46 L543.62,90.40 L543.37,90.34 L543.13,90.28 L542.88,90.23 L542.64,90.17 L542.39,90.12 L542.13,90.06 L541.87,90.01 L541.60,89.95 L541.31,89.89 L541.01,89.83 L540.69,89.76 L540.36,89.68 L540.00,89.60 L539.63,89.51 L539.24,89.42 L538.85,89.33 L538.45,89.24 L538.03,89.14 L537.61,89.04 L537.17,88.93 L536.72,88.83 L536.26,88.72 L535.78,88.60 L535.29,88.49 L534.78,88.38 L534.26,88.26 L533.72,88.14 L533.17,88.02 L532.60,87.90 L532.01,87.78 L531.39,87.65 L530.75,87.51 L530.09,87.38 L529.40,87.24 L528.71,87.10 L528.00,86.96 L527.28,86.81 L526.56,86.67 L525.83,86.53 L525.09,86.38 L524.36,86.24 L523.63,86.10 L522.91,85.96 L522.20,85.83 L521.50,85.70 L520.81,85.57 L520.11,85.45 L519.42,85.32 L518.72,85.19 L518.03,85.07 L517.34,84.95 L516.64,84.83 L515.95,84.71 L515.26,84.59 L514.56,84.47 L513.87,84.35 L513.17,84.24 L512.48,84.13 L511.79,84.02 L511.09,83.91 L510.40,83.80 L509.71,83.69 L509.01,83.59 L508.32,83.49 L507.62,83.39 L506.93,83.28 L506.24,83.19 L505.54,83.09 L504.85,82.99 L504.16,82.90 L503.46,82.81 L502.77,82.72 L502.07,82.63 L501.38,82.54 L500.69,82.46 L499.99,82.38 L499.30,82.30 L498.61,82.22 L497.91,82.15 L497.22,82.07 L496.52,82.00 L495.83,81.93 L495.14,81.87 L494.44,81.80 L493.75,81.74 L493.06,81.68 L492.36,81.62 L491.67,81.56 L490.97,81.50 L490.28,81.45 L489.59,81.40 L488.89,81.35 L488.20,81.30 L487.50,81.25 L486.80,81.21 L486.09,81.17 L485.38,81.14 L484.66,81.10 L483.95,81.07 L483.24,81.04 L482.52,81.01 L481.82,80.98 L481.12,80.96 L480.42,80.93 L479.73,80.91 L479.06,80.88 L478.39,80.85 L477.74,80.83 L477.10,80.80 L476.46,80.77 L475.80,80.74 L475.14,80.71 L474.47,80.68 L473.80,80.65 L473.14,80.63 L472.49,80.60 L471.86,80.57 L471.24,80.54 L470.66,80.52 L470.10,80.49 L469.59,80.47 L469.11,80.45 L468.69,80.43 L468.32,80.41 L468.00,80.40 Z" fill="#c0c0c0"/>
<rect x="468" y="15.6" width="204.00" height="1" fill="#ababab"/>
<path d="M468.00,80.40 L468.32,80.41 L468.69,80.43 L469.11,80.45 L469.59,80.47 L470.10,80.49 L470.66,80.52 L471.24,80.54 L471.86,80.57 L472.49,80.60 L473.14,80.63 L473.80,80.65 L474.47,80.68 L475.14,80.71 L475.80,80.74 L476.46,80.77 L477.10,80.80 L477.74,80.83 L478.39,80.85 L479.06,80.88 L479.73,80.91 L480.42,80.93 L481.12,80.96 L481.82,80.98 L482.52,81.01 L483.24,81.04 L483.95,81.07 L484.66,81.10 L485.38,81.14 L486.09,81.17 L486.80,81.21 L487.50,81.25 L488.20,81.30 L488.89,81.35 L489.59,81.40 L490.28,81.45 L490.97,81.50 L491.67,81.56 L492.36,81.62 L493.06,81.68 L493.75,81.74 L494.44,81.80 L495.14,81.87 L495.83,81.93 L496.52,82.00 L497.22,82.07 L497.91,82.15 L498.61,82.22 L499.30,82.30 L499.99,82.38 L500.69,82.46 L501.38,82.54 L502.07,82.63 L502.77,82.72 L503.46,82.81 L504.16,82.90 L504.85,82.99 L505.54,83.09 L506.24,83.19 L506.93,83.28 L507.62,83.39 L508.32,83.49 L509.01,83.59 L509.71,83.69 L510.40,83.80 L511.09,83.91 L511.79,84.02 L512.48,84.13 L513.17,84.24 L513.87,84.35 L514.56,84.47 L515.26,84.59 L515.95,84.71 L516.64,84.83 L517.34,84.95 L518.03,85.07 L518.72,85.19 L519.42,85.32 L520.11,85.45 L520.81,85.57 L521.50,85.70 L522.20,85.83 L522.91,85.96 L523.63,86.10 L524.36,86.24 L525.09,86.38 L525.83,86.53 L526.56,86.67 L527.28,86.81 L528.00,86.96 L528.71,87.10 L529.40,87.24 L530.09,87.38 L530.75,87.51 L531.39,87.65 L532.01,87.78 L532.60,87.90 L533.17,88.02 L533.72,88.14 L534.26,88.26 L534.78,88.38 L535.29,88.49 L535.78,88.60 L536.26,88.72 L536.72,88.83 L537.17,88.93 L537.61,89.04 L538.03,89.14 L538.45,89.24 L538.85,89.33 L539.24,89.42 L539.63,89.51 L540.00,89.60 L540.36,89.68 L540.69,89.76 L541.01,89.83 L541.31,89.89 L541.60,89.95 L541.87,90.01 L542.13,90.06 L542.39,90.12 L542.64,90.17 L542.88,90.23 L543.13,90.28 L543.37,90.34 L543.62,90.40 L543.87,90.46 L544.13,90.53 L544.40,90.60 L544.68,90.68 L544.95,90.75 L545.23,90.83 L545.50,90.92 L545.78,91.00 L546.05,91.09 L546.33,91.17 L546.61,91.26 L546.88,91.35 L547.16,91.44 L547.43,91.53 L547.71,91.63 L547.98,91.72 L548.25,91.81 L548.53,91.91 L548.80,92.00 L549.07,92.09 L549.34,92.19 L549.61,92.28 L549.88,92.38 L550.15,92.48 L550.42,92.57 L550.68,92.67 L550.95,92.77 L551.22,92.87 L551.48,92.97 L551.75,93.07 L552.02,93.17 L552.29,93.28 L552.56,93.38 L552.83,93.49 L553.10,93.60 L553.37,93.71 L553.65,93.82 L553.92,93.93 L554.19,94.05 L554.47,94.16 L554.74,94.28 L555.02,94.39 L555.29,94.51 L555.57,94.63 L555.85,94.75 L556.12,94.87 L556.40,95.00 L556.67,95.12 L556.95,95.25 L557.22,95.37 L557.50,95.50 L557.77,95.63 L558.05,95.76 L558.32,95.89 L558.60,96.02 L558.88,96.16 L559.15,96.29 L559.43,96.43 L559.70,96.57 L559.98,96.71 L560.25,96.85 L560.52,96.99 L560.80,97.13 L561.08,97.27 L561.35,97.41 L561.62,97.56 L561.90,97.70 L562.18,97.84 L562.45,97.99 L562.73,98.13 L563.00,98.28 L563.28,98.42 L563.55,98.57 L563.83,98.71 L564.11,98.86 L564.38,99.01 L564.66,99.16 L564.93,99.31 L565.21,99.47 L565.48,99.62 L565.75,99.78 L566.03,99.94 L566.30,100.10 L566.57,100.26 L566.84,100.43 L567.11,100.60 L567.38,100.77 L567.65,100.95 L567.92,101.12 L568.18,101.30 L568.45,101.47 L568.72,101.65 L568.98,101.83 L569.25,102.01 L569.52,102.19 L569.79,102.37 L570.06,102.55 L570.33,102.72 L570.60,102.90 L570.87,103.07 L571.15,103.25 L571.43,103.42 L571.70,103.59 L571.98,103.75 L572.26,103.92 L572.54,104.09 L572.83,104.26 L573.10,104.43 L573.38,104.61 L573.66,104.78 L573.93,104.96 L574.20,105.14 L574.47,105.32 L574.74,105.51 L575.00,105.70 L575.26,105.90 L575.51,106.10 L575.76,106.30 L576.01,106.51 L576.25,106.73 L576.49,106.94 L576.74,107.16 L576.97,107.38 L577.21,107.60 L577.45,107.82 L577.69,108.04 L577.93,108.26 L578.17,108.47 L578.41,108.69 L578.65,108.89 L578.90,109.10 L579.15,109.30 L579.40,109.50 L579.65,109.70 L579.90,109.90 L580.15,110.10 L580.40,110.30 L580.65,110.49 L580.90,110.69 L581.15,110.88 L581.40,111.07 L581.65,111.26 L581.90,111.45 L582.15,111.64 L582.40,111.83 L582.65,112.02 L582.90,112.20 L583.15,112.38 L583.39,112.57 L583.64,112.75 L583.88,112.94 L584.13,113.12 L584.37,113.30 L584.61,113.48 L584.86,113.66 L585.10,113.83 L585.34,114.01 L585.58,114.18 L585.83,114.35 L586.07,114.52 L586.31,114.68 L586.56,114.84 L586.80,115.00 L587.04,115.15 L587.29,115.31 L587.53,115.46 L587.77,115.60 L588.02,115.75 L588.26,115.89 L588.50,116.03 L588.74,116.17 L588.99,116.30 L589.23,116.44 L589.47,116.57 L589.72,116.70 L589.96,116.83 L590.21,116.95 L590.45,117.08 L590.70,117.20 L590.95,117.32 L591.20,117.44 L591.45,117.55 L591.70,117.67 L591.95,117.78 L592.20,117.89 L592.45,117.99 L592.70,118.10 L592.95,118.20 L593.20,118.31 L593.45,118.41 L593.70,118.51 L593.95,118.61 L594.20,118.71 L594.45,118.80 L594.70,118.90 L594.95,119.00 L595.19,119.09 L595.44,119.19 L595.68,119.28 L595.92,119.37 L596.17,119.46 L596.41,119.55 L596.65,119.64 L596.89,119.72 L597.13,119.81 L597.38,119.89 L597.62,119.98 L597.86,120.06 L598.11,120.14 L598.35,120.22 L598.60,120.30 L598.85,120.38 L599.10,120.45 L599.35,120.53 L599.60,120.60 L599.85,120.67 L600.10,120.74 L600.35,120.81 L600.60,120.88 L600.85,120.95 L601.10,121.02 L601.35,121.08 L601.60,121.15 L601.85,121.21 L602.10,121.27 L602.35,121.34 L602.60,121.40 L602.85,121.46 L603.09,121.52 L603.34,121.58 L603.58,121.64 L603.83,121.70 L604.07,121.76 L604.31,121.82 L604.56,121.88 L604.80,121.93 L605.04,121.99 L605.28,122.04 L605.53,122.09 L605.77,122.15 L606.01,122.20 L606.26,122.25 L606.50,122.30 L606.74,122.35 L606.99,122.40 L607.23,122.45 L607.47,122.50 L607.72,122.55 L607.96,122.59 L608.20,122.64 L608.44,122.69 L608.69,122.73 L608.93,122.78 L609.17,122.82 L609.42,122.86 L609.66,122.90 L609.91,122.93 L610.15,122.97 L610.40,123.00 L610.64,123.03 L610.87,123.06 L611.09,123.08 L611.30,123.10 L611.52,123.12 L611.73,123.14 L611.94,123.16 L612.16,123.17 L612.38,123.19 L612.62,123.21 L612.87,123.22 L613.13,123.23 L613.41,123.25 L613.72,123.27 L614.05,123.28 L614.40,123.30 L614.71,123.32 L614.91,123.34 L615.03,123.36 L615.10,123.38 L615.15,123.40 L615.20,123.42 L615.29,123.44 L615.44,123.46 L615.68,123.48 L616.03,123.50 L616.53,123.52 L617.21,123.54 L618.08,123.56 L619.19,123.57 L620.55,123.59 L622.20,123.60 L624.25,123.61 L626.76,123.62 L629.65,123.63 L632.86,123.64 L636.33,123.65 L639.99,123.66 L643.76,123.66 L647.59,123.67 L651.40,123.67 L655.13,123.68 L658.71,123.68 L662.07,123.69 L665.14,123.69 L667.87,123.69 L670.18,123.70 L672.00,123.70" fill="none" stroke="#8a8a8a" stroke-width="0.5"/>
<path d="M472.00,80.58 L472.83,80.54 L473.66,80.51 L474.50,80.48 L475.33,80.44 L476.16,80.41 L476.99,80.38 L477.82,80.35 L478.66,80.34 L479.49,80.33 L480.32,80.33 L481.15,80.33 L481.98,80.33 L482.82,80.32 L483.65,80.32 L484.48,80.33 L485.31,80.33 L486.14,80.34 L486.97,80.35 L487.81,80.37 L488.64,80.39 L489.47,80.41 L490.30,80.45 L491.13,80.50 L491.97,80.56 L492.80,80.63 L493.63,80.69 L494.46,80.76 L495.29,80.83 L496.13,80.90 L496.96,80.98 L497.79,81.06 L498.62,81.14 L499.45,81.22 L500.29,81.31 L501.12,81.40 L501.95,81.50 L502.78,81.59 L503.61,81.69 L504.45,81.79 L505.28,81.90 L506.11,82.01 L506.94,82.12 L507.77,82.23 L508.61,82.34 L509.44,82.46 L510.27,82.58 L511.10,82.70 L511.93,82.82 L512.76,82.95 L513.60,83.07 L514.43,83.20 L515.26,83.34 L516.09,83.47 L516.92,83.61 L517.76,83.74 L518.59,83.88 L519.42,84.03 L520.25,84.17 L521.08,84.31 L521.92,84.46 L522.75,84.61 L523.58,84.75 L524.41,84.91 L525.24,85.06 L526.08,85.21 L526.91,85.37 L527.74,85.53 L528.57,85.69 L529.40,85.85 L530.24,86.01 L531.07,86.17 L531.90,86.34 L532.73,86.51 L533.56,86.69 L534.39,86.87 L535.23,87.05 L536.06,87.24 L536.89,87.43 L537.72,87.62 L538.55,87.82 L539.39,88.01 L540.22,88.20 L541.05,88.38 L541.88,88.55 L542.71,88.73 L543.55,88.91 L544.38,89.12 L545.21,89.35 L546.04,89.60 L546.87,89.87 L547.71,90.14 L548.54,90.42 L549.37,90.70 L550.20,91.00 L551.03,91.32 L551.87,91.65 L552.70,91.98 L553.53,92.33 L554.36,92.69 L555.19,93.06 L556.03,93.43 L556.86,93.82 L557.69,94.22 L558.52,94.63 L559.35,95.05 L560.18,95.48 L561.02,95.92 L561.85,96.37 L562.68,96.86 L563.51,97.37 L564.34,97.89 L565.18,98.41 L566.01,98.96 L566.84,99.53 L567.67,100.13 L568.50,100.85 L569.34,101.62 L570.17,102.40 L571.00,103.15 L571.00,103.15 L570.17,102.62 L569.34,102.07 L568.50,101.51 L567.67,100.96 L566.84,100.43 L566.01,99.93 L565.18,99.45 L564.34,98.99 L563.51,98.55 L562.68,98.11 L561.85,97.67 L561.02,97.24 L560.18,96.81 L559.35,96.40 L558.52,95.99 L557.69,95.59 L556.86,95.20 L556.03,94.83 L555.19,94.47 L554.36,94.12 L553.53,93.77 L552.70,93.44 L551.87,93.11 L551.03,92.80 L550.20,92.49 L549.37,92.20 L548.54,91.91 L547.71,91.63 L546.87,91.35 L546.04,91.08 L545.21,90.83 L544.38,90.59 L543.55,90.38 L542.71,90.19 L541.88,90.01 L541.05,89.83 L540.22,89.65 L539.39,89.46 L538.55,89.26 L537.72,89.06 L536.89,88.87 L536.06,88.67 L535.23,88.48 L534.39,88.29 L533.56,88.11 L532.73,87.93 L531.90,87.75 L531.07,87.58 L530.24,87.41 L529.40,87.24 L528.57,87.07 L527.74,86.90 L526.91,86.74 L526.08,86.57 L525.24,86.41 L524.41,86.25 L523.58,86.09 L522.75,85.93 L521.92,85.78 L521.08,85.62 L520.25,85.47 L519.42,85.32 L518.59,85.17 L517.76,85.02 L516.92,84.88 L516.09,84.73 L515.26,84.59 L514.43,84.45 L513.60,84.31 L512.76,84.17 L511.93,84.04 L511.10,83.91 L510.27,83.78 L509.44,83.65 L508.61,83.53 L507.77,83.41 L506.94,83.29 L506.11,83.17 L505.28,83.05 L504.45,82.94 L503.61,82.83 L502.78,82.72 L501.95,82.61 L501.12,82.51 L500.29,82.41 L499.45,82.32 L498.62,82.22 L497.79,82.13 L496.96,82.05 L496.13,81.96 L495.29,81.88 L494.46,81.80 L493.63,81.73 L492.80,81.65 L491.97,81.58 L491.13,81.52 L490.30,81.45 L489.47,81.39 L488.64,81.33 L487.81,81.27 L486.97,81.22 L486.14,81.18 L485.31,81.13 L484.48,81.10 L483.65,81.06 L482.82,81.02 L481.98,80.99 L481.15,80.96 L480.32,80.93 L479.49,80.90 L478.66,80.86 L477.82,80.83 L476.99,80.80 L476.16,80.76 L475.33,80.72 L474.50,80.68 L473.66,80.65 L472.83,80.61 L472.00,80.58 Z" fill="#ff0000"/>
<path d="M3.2,147 L215,147 L215,249.30 L215.00,249.30 L212.99,249.29 L210.44,249.29 L207.43,249.28 L204.03,249.27 L200.32,249.26 L196.37,249.24 L192.25,249.23 L188.04,249.22 L183.82,249.21 L179.65,249.19 L175.61,249.18 L171.78,249.16 L168.23,249.15 L165.04,249.13 L162.27,249.12 L160.00,249.10 L158.18,249.08 L156.69,249.07 L155.48,249.05 L154.53,249.04 L153.80,249.02 L153.27,249.01 L152.90,248.99 L152.65,248.97 L152.50,248.96 L152.40,248.94 L152.34,248.92 L152.27,248.90 L152.16,248.88 L151.99,248.85 L151.71,248.83 L151.30,248.80 L150.81,248.77 L150.34,248.74 L149.87,248.71 L149.41,248.68 L148.96,248.65 L148.52,248.62 L148.08,248.59 L147.64,248.55 L147.22,248.51 L146.79,248.47 L146.37,248.43 L145.95,248.39 L145.54,248.35 L145.13,248.30 L144.71,248.25 L144.30,248.20 L143.89,248.15 L143.49,248.09 L143.10,248.03 L142.71,247.97 L142.32,247.91 L141.94,247.85 L141.56,247.79 L141.18,247.72 L140.80,247.65 L140.43,247.58 L140.05,247.50 L139.67,247.43 L139.28,247.35 L138.89,247.27 L138.50,247.19 L138.10,247.10 L137.70,247.01 L137.29,246.92 L136.88,246.83 L136.47,246.74 L136.06,246.64 L135.64,246.54 L135.22,246.44 L134.81,246.34 L134.39,246.23 L133.96,246.12 L133.54,246.01 L133.11,245.90 L132.69,245.78 L132.26,245.65 L131.83,245.53 L131.40,245.40 L130.97,245.27 L130.54,245.13 L130.11,244.99 L129.68,244.85 L129.25,244.70 L128.82,244.55 L128.38,244.39 L127.94,244.24 L127.50,244.08 L127.06,243.92 L126.61,243.75 L126.16,243.59 L125.71,243.42 L125.24,243.25 L124.77,243.07 L124.30,242.90 L123.82,242.72 L123.34,242.54 L122.86,242.35 L122.37,242.16 L121.89,241.97 L121.39,241.77 L120.90,241.57 L120.39,241.37 L119.89,241.17 L119.37,240.97 L118.85,240.77 L118.32,240.57 L117.78,240.37 L117.23,240.18 L116.67,239.99 L116.10,239.80 L115.52,239.62 L114.92,239.43 L114.31,239.25 L113.69,239.06 L113.06,238.88 L112.42,238.69 L111.78,238.51 L111.13,238.33 L110.47,238.15 L109.81,237.98 L109.15,237.81 L108.50,237.64 L107.84,237.47 L107.19,237.31 L106.54,237.15 L105.90,237.00 L105.26,236.85 L104.63,236.71 L103.99,236.57 L103.35,236.44 L102.72,236.31 L102.08,236.18 L101.44,236.05 L100.81,235.93 L100.17,235.81 L99.53,235.69 L98.89,235.58 L98.26,235.46 L97.62,235.35 L96.98,235.23 L96.34,235.12 L95.70,235.00 L95.06,234.88 L94.42,234.77 L93.77,234.66 L93.13,234.55 L92.49,234.44 L91.84,234.33 L91.20,234.22 L90.55,234.11 L89.90,234.01 L89.26,233.90 L88.61,233.80 L87.97,233.70 L87.33,233.60 L86.68,233.50 L86.04,233.40 L85.40,233.30 L84.76,233.20 L84.12,233.11 L83.48,233.01 L82.84,232.92 L82.21,232.83 L81.57,232.74 L80.93,232.65 L80.29,232.56 L79.66,232.47 L79.02,232.38 L78.38,232.30 L77.75,232.21 L77.11,232.13 L76.47,232.05 L75.84,231.98 L75.20,231.90 L74.55,231.83 L73.88,231.75 L73.19,231.68 L72.50,231.61 L71.79,231.53 L71.09,231.46 L70.39,231.40 L69.69,231.33 L69.01,231.27 L68.35,231.21 L67.71,231.15 L67.09,231.09 L66.51,231.04 L65.96,230.99 L65.46,230.94 L65.00,230.90 L64.60,230.86 L64.27,230.83 L64.00,230.80 L63.77,230.78 L63.58,230.76 L63.42,230.75 L63.28,230.73 L63.15,230.72 L63.02,230.71 L62.88,230.70 L62.72,230.69 L62.53,230.67 L62.30,230.66 L62.03,230.64 L61.70,230.62 L61.30,230.60 L60.84,230.57 L60.34,230.55 L59.79,230.52 L59.21,230.49 L58.59,230.46 L57.95,230.43 L57.29,230.40 L56.61,230.36 L55.91,230.33 L55.21,230.30 L54.51,230.26 L53.80,230.23 L53.11,230.20 L52.42,230.16 L51.75,230.13 L51.10,230.10 L50.46,230.07 L49.83,230.04 L49.19,230.00 L48.55,229.97 L47.91,229.94 L47.27,229.90 L46.64,229.87 L46.00,229.84 L45.36,229.80 L44.73,229.77 L44.09,229.74 L43.45,229.71 L42.81,229.68 L42.17,229.65 L41.54,229.63 L40.90,229.60 L40.26,229.58 L39.63,229.55 L38.99,229.53 L38.36,229.51 L37.73,229.49 L37.10,229.47 L36.46,229.45 L35.83,229.44 L35.20,229.42 L34.56,229.40 L33.92,229.39 L33.29,229.37 L32.64,229.35 L32.00,229.34 L31.35,229.32 L30.70,229.30 L30.06,229.28 L29.43,229.26 L28.81,229.24 L28.20,229.22 L27.60,229.20 L26.99,229.18 L26.38,229.16 L25.76,229.14 L25.13,229.12 L24.48,229.10 L23.81,229.08 L23.12,229.06 L22.39,229.04 L21.63,229.03 L20.84,229.01 L20.00,229.00 L19.09,228.99 L18.08,228.98 L16.99,228.97 L15.84,228.96 L14.64,228.95 L13.41,228.94 L12.17,228.94 L10.93,228.93 L9.72,228.93 L8.54,228.92 L7.41,228.92 L6.36,228.91 L5.40,228.91 L4.54,228.91 L3.80,228.90 L3.20,228.90 Z" fill="#c0c0c0"/>
<rect x="3.2" y="147" width="211.80" height="1" fill="#ababab"/>
<path d="M3.20,228.90 L3.80,228.90 L4.54,228.91 L5.40,228.91 L6.36,228.91 L7.41,228.92 L8.54,228.92 L9.72,228.93 L10.93,228.93 L12.17,228.94 L13.41,228.94 L14.64,228.95 L15.84,228.96 L16.99,228.97 L18.08,228.98 L19.09,228.99 L20.00,229.00 L20.84,229.01 L21.63,229.03 L22.39,229.04 L23.12,229.06 L23.81,229.08 L24.48,229.10 L25.13,229.12 L25.76,229.14 L26.38,229.16 L26.99,229.18 L27.60,229.20 L28.20,229.22 L28.81,229.24 L29.43,229.26 L30.06,229.28 L30.70,229.30 L31.35,229.32 L32.00,229.34 L32.64,229.35 L33.29,229.37 L33.92,229.39 L34.56,229.40 L35.20,229.42 L35.83,229.44 L36.46,229.45 L37.10,229.47 L37.73,229.49 L38.36,229.51 L38.99,229.53 L39.63,229.55 L40.26,229.58 L40.90,229.60 L41.54,229.63 L42.17,229.65 L42.81,229.68 L43.45,229.71 L44.09,229.74 L44.73,229.77 L45.36,229.80 L46.00,229.84 L46.64,229.87 L47.27,229.90 L47.91,229.94 L48.55,229.97 L49.19,230.00 L49.83,230.04 L50.46,230.07 L51.10,230.10 L51.75,230.13 L52.42,230.16 L53.11,230.20 L53.80,230.23 L54.51,230.26 L55.21,230.30 L55.91,230.33 L56.61,230.36 L57.29,230.40 L57.95,230.43 L58.59,230.46 L59.21,230.49 L59.79,230.52 L60.34,230.55 L60.84,230.57 L61.30,230.60 L61.70,230.62 L62.03,230.64 L62.30,230.66 L62.53,230.67 L62.72,230.69 L62.88,230.70 L63.02,230.71 L63.15,230.72 L63.28,230.73 L63.42,230.75 L63.58,230.76 L63.77,230.78 L64.00,230.80 L64.27,230.83 L64.60,230.86 L65.00,230.90 L65.46,230.94 L65.96,230.99 L66.51,231.04 L67.09,231.09 L67.71,231.15 L68.35,231.21 L69.01,231.27 L69.69,231.33 L70.39,231.40 L71.09,231.46 L71.79,231.53 L72.50,231.61 L73.19,231.68 L73.88,231.75 L74.55,231.83 L75.20,231.90 L75.84,231.98 L76.47,232.05 L77.11,232.13 L77.75,232.21 L78.38,232.30 L79.02,232.38 L79.66,232.47 L80.29,232.56 L80.93,232.65 L81.57,232.74 L82.21,232.83 L82.84,232.92 L83.48,233.01 L84.12,233.11 L84.76,233.20 L85.40,233.30 L86.04,233.40 L86.68,233.50 L87.33,233.60 L87.97,233.70 L88.61,233.80 L89.26,233.90 L89.90,234.01 L90.55,234.11 L91.20,234.22 L91.84,234.33 L92.49,234.44 L93.13,234.55 L93.77,234.66 L94.42,234.77 L95.06,234.88 L95.70,235.00 L96.34,235.12 L96.98,235.23 L97.62,235.35 L98.26,235.46 L98.89,235.58 L99.53,235.69 L100.17,235.81 L100.81,235.93 L101.44,236.05 L102.08,236.18 L102.72,236.31 L103.35,236.44 L103.99,236.57 L104.63,236.71 L105.26,236.85 L105.90,237.00 L106.54,237.15 L107.19,237.31 L107.84,237.47 L108.50,237.64 L109.15,237.81 L109.81,237.98 L110.47,238.15 L111.13,238.33 L111.78,238.51 L112.42,238.69 L113.06,238.88 L113.69,239.06 L114.31,239.25 L114.92,239.43 L115.52,239.62 L116.10,239.80 L116.67,239.99 L117.23,240.18 L117.78,240.37 L118.32,240.57 L118.85,240.77 L119.37,240.97 L119.89,241.17 L120.39,241.37 L120.90,241.57 L121.39,241.77 L121.89,241.97 L122.37,242.16 L122.86,242.35 L123.34,242.54 L123.82,242.72 L124.30,242.90 L124.77,243.07 L125.24,243.25 L125.71,243.42 L126.16,243.59 L126.61,243.75 L127.06,243.92 L127.50,244.08 L127.94,244.24 L128.38,244.39 L128.82,244.55 L129.25,244.70 L129.68,244.85 L130.11,244.99 L130.54,245.13 L130.97,245.27 L131.40,245.40 L131.83,245.53 L132.26,245.65 L132.69,245.78 L133.11,245.90 L133.54,246.01 L133.96,246.12 L134.39,246.23 L134.81,246.34 L135.22,246.44 L135.64,246.54 L136.06,246.64 L136.47,246.74 L136.88,246.83 L137.29,246.92 L137.70,247.01 L138.10,247.10 L138.50,247.19 L138.89,247.27 L139.28,247.35 L139.67,247.43 L140.05,247.50 L140.43,247.58 L140.80,247.65 L141.18,247.72 L141.56,247.79 L141.94,247.85 L142.32,247.91 L142.71,247.97 L143.10,248.03 L143.49,248.09 L143.89,248.15 L144.30,248.20 L144.71,248.25 L145.13,248.30 L145.54,248.35 L145.95,248.39 L146.37,248.43 L146.79,248.47 L147.22,248.51 L147.64,248.55 L148.08,248.59 L148.52,248.62 L148.96,248.65 L149.41,248.68 L149.87,248.71 L150.34,248.74 L150.81,248.77 L151.30,248.80 L151.71,248.83 L151.99,248.85 L152.16,248.88 L152.27,248.90 L152.34,248.92 L152.40,248.94 L152.50,248.96 L152.65,248.97 L152.90,248.99 L153.27,249.01 L153.80,249.02 L154.53,249.04 L155.48,249.05 L156.69,249.07 L158.18,249.08 L160.00,249.10 L162.27,249.12 L165.04,249.13 L168.23,249.15 L171.78,249.16 L175.61,249.18 L179.65,249.19 L183.82,249.21 L188.04,249.22 L192.25,249.23 L196.37,249.24 L200.32,249.26 L204.03,249.27 L207.43,249.28 L210.44,249.29 L212.99,249.29 L215.00,249.30" fill="none" stroke="#8a8a8a" stroke-width="0.5"/>
<path d="M22.00,229.04 L22.89,228.97 L23.78,228.90 L24.67,228.84 L25.56,228.77 L26.45,228.72 L27.34,228.66 L28.24,228.62 L29.13,228.62 L30.02,228.63 L30.91,228.63 L31.80,228.64 L32.69,228.64 L33.58,228.64 L34.47,228.64 L35.36,228.64 L36.25,228.64 L37.14,228.65 L38.03,228.65 L38.92,228.66 L39.82,228.66 L40.71,228.69 L41.60,228.73 L42.49,228.76 L43.38,228.80 L44.27,228.84 L45.16,228.89 L46.05,228.93 L46.94,228.97 L47.83,229.02 L48.72,229.06 L49.61,229.11 L50.50,229.15 L51.39,229.20 L52.29,229.24 L53.18,229.28 L54.07,229.32 L54.96,229.36 L55.85,229.40 L56.74,229.44 L57.63,229.48 L58.52,229.52 L59.41,229.57 L60.30,229.61 L61.19,229.66 L62.08,229.71 L62.97,229.77 L63.87,229.85 L64.76,229.94 L65.65,230.02 L66.54,230.10 L67.43,230.18 L68.32,230.26 L69.21,230.34 L70.10,230.42 L70.99,230.50 L71.88,230.59 L72.77,230.68 L73.66,230.77 L74.55,230.87 L75.45,230.97 L76.34,231.08 L77.23,231.19 L78.12,231.30 L79.01,231.42 L79.90,231.54 L80.79,231.66 L81.68,231.78 L82.57,231.91 L83.46,232.04 L84.35,232.17 L85.24,232.30 L86.13,232.43 L87.03,232.57 L87.92,232.71 L88.81,232.85 L89.70,232.99 L90.59,233.13 L91.48,233.28 L92.37,233.43 L93.26,233.58 L94.15,233.73 L95.04,233.89 L95.93,234.05 L96.82,234.21 L97.71,234.37 L98.61,234.53 L99.50,234.69 L100.39,234.85 L101.28,235.02 L102.17,235.20 L103.06,235.38 L103.95,235.56 L104.84,235.76 L105.73,235.96 L106.62,236.17 L107.51,236.39 L108.40,236.61 L109.29,236.84 L110.18,237.08 L111.08,237.32 L111.97,237.56 L112.86,237.82 L113.75,238.08 L114.64,238.34 L115.53,238.62 L116.42,238.90 L117.31,239.21 L118.20,239.53 L119.09,239.86 L119.98,240.21 L120.87,240.62 L121.76,241.03 L122.66,241.45 L123.55,241.85 L124.44,242.25 L125.33,242.63 L126.22,243.07 L127.11,243.67 L128.00,244.26 L128.00,244.26 L127.11,243.93 L126.22,243.61 L125.33,243.28 L124.44,242.95 L123.55,242.62 L122.66,242.27 L121.76,241.92 L120.87,241.56 L119.98,241.21 L119.09,240.86 L118.20,240.53 L117.31,240.21 L116.42,239.90 L115.53,239.62 L114.64,239.34 L113.75,239.08 L112.86,238.82 L111.97,238.56 L111.08,238.32 L110.18,238.08 L109.29,237.84 L108.40,237.61 L107.51,237.39 L106.62,237.17 L105.73,236.96 L104.84,236.76 L103.95,236.56 L103.06,236.38 L102.17,236.20 L101.28,236.02 L100.39,235.85 L99.50,235.69 L98.61,235.52 L97.71,235.36 L96.82,235.20 L95.93,235.04 L95.04,234.88 L94.15,234.72 L93.26,234.57 L92.37,234.42 L91.48,234.27 L90.59,234.12 L89.70,233.97 L88.81,233.83 L87.92,233.69 L87.03,233.55 L86.13,233.41 L85.24,233.28 L84.35,233.14 L83.46,233.01 L82.57,232.88 L81.68,232.75 L80.79,232.63 L79.90,232.50 L79.01,232.38 L78.12,232.26 L77.23,232.15 L76.34,232.04 L75.45,231.93 L74.55,231.83 L73.66,231.73 L72.77,231.63 L71.88,231.54 L70.99,231.46 L70.10,231.37 L69.21,231.29 L68.32,231.20 L67.43,231.12 L66.54,231.04 L65.65,230.96 L64.76,230.88 L63.87,230.79 L62.97,230.70 L62.08,230.65 L61.19,230.59 L60.30,230.55 L59.41,230.50 L58.52,230.46 L57.63,230.41 L56.74,230.37 L55.85,230.33 L54.96,230.28 L54.07,230.24 L53.18,230.20 L52.29,230.16 L51.39,230.11 L50.50,230.07 L49.61,230.03 L48.72,229.98 L47.83,229.93 L46.94,229.89 L46.05,229.84 L45.16,229.79 L44.27,229.75 L43.38,229.71 L42.49,229.67 L41.60,229.63 L40.71,229.59 L39.82,229.56 L38.92,229.53 L38.03,229.50 L37.14,229.47 L36.25,229.45 L35.36,229.42 L34.47,229.40 L33.58,229.38 L32.69,229.35 L31.80,229.33 L30.91,229.31 L30.02,229.28 L29.13,229.25 L28.24,229.22 L27.34,229.19 L26.45,229.16 L25.56,229.13 L24.67,229.10 L23.78,229.08 L22.89,229.06 L22.00,229.04 Z" fill="#f01818"/>
<rect x="22" y="216.5" width="110.6" height="34.2" fill="none" stroke="#333333" stroke-width="1"/>
<path d="M22,250.7 L3.1,288.4 M132.6,250.7 L186.4,288.4" stroke="#333333" stroke-width="1" fill="none"/>
<path d="M3.1,288.4 L186.4,288.4 L186.40,338.60 L186.40,338.60 L186.42,338.61 L186.45,338.62 L186.51,338.64 L186.56,338.67 L186.62,338.69 L186.67,338.72 L186.71,338.73 L186.72,338.74 L186.72,338.73 L186.68,338.71 L186.60,338.68 L186.48,338.62 L186.31,338.54 L186.09,338.43 L185.80,338.30 L185.44,338.13 L184.99,337.92 L184.48,337.69 L183.91,337.42 L183.30,337.14 L182.64,336.83 L181.95,336.51 L181.25,336.19 L180.54,335.86 L179.82,335.53 L179.12,335.20 L178.44,334.88 L177.78,334.58 L177.17,334.30 L176.60,334.03 L176.10,333.80 L175.65,333.59 L175.23,333.40 L174.85,333.22 L174.50,333.05 L174.17,332.90 L173.86,332.75 L173.56,332.61 L173.27,332.48 L172.98,332.34 L172.70,332.21 L172.41,332.07 L172.10,331.93 L171.79,331.79 L171.45,331.64 L171.09,331.47 L170.70,331.30 L170.29,331.12 L169.88,330.93 L169.46,330.74 L169.03,330.55 L168.59,330.35 L168.15,330.15 L167.69,329.95 L167.23,329.74 L166.76,329.54 L166.27,329.32 L165.78,329.11 L165.27,328.89 L164.75,328.67 L164.21,328.45 L163.66,328.23 L163.10,328.00 L162.52,327.77 L161.91,327.53 L161.29,327.29 L160.65,327.04 L159.99,326.79 L159.32,326.53 L158.64,326.28 L157.95,326.02 L157.26,325.76 L156.56,325.50 L155.86,325.24 L155.15,324.99 L154.46,324.74 L153.76,324.49 L153.08,324.24 L152.40,324.00 L151.73,323.76 L151.05,323.53 L150.38,323.29 L149.71,323.05 L149.03,322.82 L148.36,322.59 L147.68,322.35 L147.01,322.12 L146.33,321.90 L145.65,321.67 L144.98,321.45 L144.30,321.23 L143.63,321.02 L142.95,320.81 L142.28,320.60 L141.60,320.40 L140.93,320.20 L140.25,320.01 L139.57,319.82 L138.90,319.63 L138.22,319.45 L137.55,319.27 L136.88,319.09 L136.20,318.92 L135.53,318.75 L134.85,318.58 L134.18,318.41 L133.50,318.25 L132.82,318.08 L132.15,317.92 L131.47,317.76 L130.80,317.60 L130.12,317.44 L129.42,317.28 L128.72,317.12 L128.00,316.97 L127.28,316.81 L126.57,316.66 L125.85,316.51 L125.14,316.36 L124.43,316.21 L123.74,316.07 L123.06,315.93 L122.40,315.79 L121.77,315.66 L121.15,315.54 L120.56,315.42 L120.00,315.30 L119.48,315.19 L119.02,315.09 L118.60,315.00 L118.21,314.92 L117.86,314.84 L117.52,314.76 L117.19,314.69 L116.86,314.62 L116.53,314.55 L116.19,314.48 L115.82,314.41 L115.43,314.34 L115.00,314.26 L114.52,314.18 L113.99,314.09 L113.40,314.00 L112.74,313.90 L112.01,313.79 L111.23,313.68 L110.40,313.56 L109.54,313.44 L108.64,313.32 L107.72,313.20 L106.79,313.07 L105.86,312.95 L104.94,312.83 L104.02,312.71 L103.14,312.60 L102.28,312.49 L101.47,312.39 L100.70,312.29 L100.00,312.20 L99.37,312.12 L98.80,312.05 L98.30,311.99 L97.84,311.94 L97.42,311.89 L97.03,311.84 L96.64,311.80 L96.26,311.76 L95.87,311.71 L95.46,311.67 L95.01,311.62 L94.53,311.57 L93.98,311.52 L93.37,311.45 L92.68,311.38 L91.90,311.30 L91.02,311.21 L90.06,311.10 L89.02,310.99 L87.91,310.87 L86.75,310.75 L85.54,310.62 L84.30,310.49 L83.04,310.36 L81.77,310.22 L80.49,310.09 L79.23,309.96 L78.00,309.84 L76.79,309.71 L75.64,309.60 L74.53,309.50 L73.50,309.40 L72.51,309.31 L71.54,309.23 L70.58,309.15 L69.64,309.08 L68.71,309.01 L67.81,308.94 L66.93,308.88 L66.06,308.82 L65.22,308.76 L64.40,308.71 L63.60,308.65 L62.83,308.60 L62.08,308.55 L61.36,308.50 L60.67,308.45 L60.00,308.40 L59.39,308.35 L58.85,308.31 L58.38,308.27 L57.96,308.23 L57.58,308.19 L57.23,308.16 L56.89,308.13 L56.56,308.09 L56.22,308.06 L55.85,308.03 L55.46,308.00 L55.02,307.96 L54.53,307.93 L53.97,307.89 L53.33,307.85 L52.60,307.80 L51.78,307.75 L50.89,307.70 L49.93,307.64 L48.91,307.58 L47.85,307.52 L46.74,307.46 L45.60,307.39 L44.43,307.33 L43.24,307.27 L42.04,307.21 L40.84,307.15 L39.63,307.09 L38.44,307.04 L37.26,306.99 L36.12,306.94 L35.00,306.90 L33.90,306.86 L32.79,306.83 L31.67,306.80 L30.55,306.78 L29.42,306.75 L28.29,306.73 L27.17,306.71 L26.05,306.69 L24.94,306.68 L23.83,306.66 L22.74,306.65 L21.65,306.64 L20.59,306.63 L19.54,306.62 L18.51,306.61 L17.50,306.60 L16.49,306.59 L15.45,306.59 L14.40,306.58 L13.34,306.58 L12.29,306.58 L11.24,306.58 L10.21,306.58 L9.21,306.58 L8.24,306.58 L7.31,306.59 L6.43,306.59 L5.61,306.59 L4.86,306.60 L4.19,306.60 L3.60,306.60 L3.10,306.60 Z" fill="#c0c0c0"/>
<path d="M3.10,306.60 L3.60,306.60 L4.19,306.60 L4.86,306.60 L5.61,306.59 L6.43,306.59 L7.31,306.59 L8.24,306.58 L9.21,306.58 L10.21,306.58 L11.24,306.58 L12.29,306.58 L13.34,306.58 L14.40,306.58 L15.45,306.59 L16.49,306.59 L17.50,306.60 L18.51,306.61 L19.54,306.62 L20.59,306.63 L21.65,306.64 L22.74,306.65 L23.83,306.66 L24.94,306.68 L26.05,306.69 L27.17,306.71 L28.29,306.73 L29.42,306.75 L30.55,306.78 L31.67,306.80 L32.79,306.83 L33.90,306.86 L35.00,306.90 L36.12,306.94 L37.26,306.99 L38.44,307.04 L39.63,307.09 L40.84,307.15 L42.04,307.21 L43.24,307.27 L44.43,307.33 L45.60,307.39 L46.74,307.46 L47.85,307.52 L48.91,307.58 L49.93,307.64 L50.89,307.70 L51.78,307.75 L52.60,307.80 L53.33,307.85 L53.97,307.89 L54.53,307.93 L55.02,307.96 L55.46,308.00 L55.85,308.03 L56.22,308.06 L56.56,308.09 L56.89,308.13 L57.23,308.16 L57.58,308.19 L57.96,308.23 L58.38,308.27 L58.85,308.31 L59.39,308.35 L60.00,308.40 L60.67,308.45 L61.36,308.50 L62.08,308.55 L62.83,308.60 L63.60,308.65 L64.40,308.71 L65.22,308.76 L66.06,308.82 L66.93,308.88 L67.81,308.94 L68.71,309.01 L69.64,309.08 L70.58,309.15 L71.54,309.23 L72.51,309.31 L73.50,309.40 L74.53,309.50 L75.64,309.60 L76.79,309.71 L78.00,309.84 L79.23,309.96 L80.49,310.09 L81.77,310.22 L83.04,310.36 L84.30,310.49 L85.54,310.62 L86.75,310.75 L87.91,310.87 L89.02,310.99 L90.06,311.10 L91.02,311.21 L91.90,311.30 L92.68,311.38 L93.37,311.45 L93.98,311.52 L94.53,311.57 L95.01,311.62 L95.46,311.67 L95.87,311.71 L96.26,311.76 L96.64,311.80 L97.03,311.84 L97.42,311.89 L97.84,311.94 L98.30,311.99 L98.80,312.05 L99.37,312.12 L100.00,312.20 L100.70,312.29 L101.47,312.39 L102.28,312.49 L103.14,312.60 L104.02,312.71 L104.94,312.83 L105.86,312.95 L106.79,313.07 L107.72,313.20 L108.64,313.32 L109.54,313.44 L110.40,313.56 L111.23,313.68 L112.01,313.79 L112.74,313.90 L113.40,314.00 L113.99,314.09 L114.52,314.18 L115.00,314.26 L115.43,314.34 L115.82,314.41 L116.19,314.48 L116.53,314.55 L116.86,314.62 L117.19,314.69 L117.52,314.76 L117.86,314.84 L118.21,314.92 L118.60,315.00 L119.02,315.09 L119.48,315.19 L120.00,315.30 L120.56,315.42 L121.15,315.54 L121.77,315.66 L122.40,315.79 L123.06,315.93 L123.74,316.07 L124.43,316.21 L125.14,316.36 L125.85,316.51 L126.57,316.66 L127.28,316.81 L128.00,316.97 L128.72,317.12 L129.42,317.28 L130.12,317.44 L130.80,317.60 L131.47,317.76 L132.15,317.92 L132.82,318.08 L133.50,318.25 L134.18,318.41 L134.85,318.58 L135.53,318.75 L136.20,318.92 L136.88,319.09 L137.55,319.27 L138.22,319.45 L138.90,319.63 L139.57,319.82 L140.25,320.01 L140.93,320.20 L141.60,320.40 L142.28,320.60 L142.95,320.81 L143.63,321.02 L144.30,321.23 L144.98,321.45 L145.65,321.67 L146.33,321.90 L147.01,322.12 L147.68,322.35 L148.36,322.59 L149.03,322.82 L149.71,323.05 L150.38,323.29 L151.05,323.53 L151.73,323.76 L152.40,324.00 L153.08,324.24 L153.76,324.49 L154.46,324.74 L155.15,324.99 L155.86,325.24 L156.56,325.50 L157.26,325.76 L157.95,326.02 L158.64,326.28 L159.32,326.53 L159.99,326.79 L160.65,327.04 L161.29,327.29 L161.91,327.53 L162.52,327.77 L163.10,328.00 L163.66,328.23 L164.21,328.45 L164.75,328.67 L165.27,328.89 L165.78,329.11 L166.27,329.32 L166.76,329.54 L167.23,329.74 L167.69,329.95 L168.15,330.15 L168.59,330.35 L169.03,330.55 L169.46,330.74 L169.88,330.93 L170.29,331.12 L170.70,331.30 L171.09,331.47 L171.45,331.64 L171.79,331.79 L172.10,331.93 L172.41,332.07 L172.70,332.21 L172.98,332.34 L173.27,332.48 L173.56,332.61 L173.86,332.75 L174.17,332.90 L174.50,333.05 L174.85,333.22 L175.23,333.40 L175.65,333.59 L176.10,333.80 L176.60,334.03 L177.17,334.30 L177.78,334.58 L178.44,334.88 L179.12,335.20 L179.82,335.53 L180.54,335.86 L181.25,336.19 L181.95,336.51 L182.64,336.83 L183.30,337.14 L183.91,337.42 L184.48,337.69 L184.99,337.92 L185.44,338.13 L185.80,338.30 L186.09,338.43 L186.31,338.54 L186.48,338.62 L186.60,338.68 L186.68,338.71 L186.72,338.73 L186.72,338.74 L186.71,338.73 L186.67,338.72 L186.62,338.69 L186.56,338.67 L186.51,338.64 L186.45,338.62 L186.42,338.61 L186.40,338.60 L186.40,338.60" fill="none" stroke="#6a6a6a" stroke-width="0.6"/>
<path d="M15.80,306.59 L17.15,306.34 L18.51,306.09 L19.86,305.85 L21.22,305.83 L22.57,305.83 L23.93,305.84 L25.28,305.85 L26.64,305.86 L27.99,305.87 L29.35,305.89 L30.70,305.91 L32.06,305.93 L33.41,305.96 L34.76,305.99 L36.12,306.03 L37.47,306.08 L38.83,306.13 L40.18,306.18 L41.54,306.24 L42.89,306.30 L44.25,306.36 L45.60,306.42 L46.96,306.49 L48.31,306.56 L49.67,306.63 L51.02,306.70 L52.37,306.77 L53.73,306.84 L55.08,306.93 L56.44,307.03 L57.79,307.15 L59.15,307.26 L60.50,307.36 L61.86,307.45 L63.21,307.53 L64.57,307.61 L65.92,307.69 L67.28,307.77 L68.63,307.86 L69.98,307.95 L71.34,308.05 L72.69,308.16 L74.05,308.27 L75.40,308.39 L76.76,308.51 L78.11,308.64 L79.47,308.76 L80.82,308.89 L82.18,309.02 L83.53,309.16 L84.89,309.29 L86.24,309.42 L87.59,309.56 L88.95,309.69 L90.30,309.83 L91.66,309.97 L93.01,310.11 L94.37,310.24 L95.72,310.38 L97.08,310.52 L98.43,310.68 L99.79,310.84 L101.14,311.01 L102.50,311.17 L103.85,311.34 L105.21,311.52 L106.56,311.69 L107.91,311.86 L109.27,312.04 L110.62,312.23 L111.98,312.41 L113.33,312.61 L114.69,312.83 L116.04,313.07 L117.40,313.34 L118.75,313.64 L120.11,313.92 L121.46,314.19 L122.82,314.45 L124.17,314.71 L125.52,314.98 L126.88,315.26 L128.23,315.54 L129.59,315.82 L130.94,316.12 L132.30,316.43 L133.65,316.75 L135.01,317.07 L136.36,317.40 L137.72,317.74 L139.07,318.09 L140.43,318.45 L141.78,318.82 L143.13,319.20 L144.49,319.60 L145.84,320.02 L147.20,320.45 L148.55,320.88 L149.91,321.33 L151.26,321.77 L152.62,322.22 L153.97,322.68 L155.33,323.14 L156.68,323.61 L158.04,324.09 L159.39,324.57 L160.74,325.07 L162.10,325.57 L163.45,326.08 L164.81,326.62 L166.16,327.17 L167.52,327.75 L168.87,328.33 L170.23,328.92 L171.58,329.50 L172.94,330.21 L174.29,330.98 L175.65,331.75 L177.00,334.22 L177.00,334.22 L175.65,333.59 L174.29,332.96 L172.94,332.32 L171.58,331.70 L170.23,331.09 L168.87,330.48 L167.52,329.87 L166.16,329.28 L164.81,328.70 L163.45,328.14 L162.10,327.60 L160.74,327.08 L159.39,326.56 L158.04,326.05 L156.68,325.55 L155.33,325.05 L153.97,324.56 L152.62,324.08 L151.26,323.60 L149.91,323.12 L148.55,322.65 L147.20,322.19 L145.84,321.74 L144.49,321.29 L143.13,320.87 L141.78,320.45 L140.43,320.06 L139.07,319.68 L137.72,319.31 L136.36,318.96 L135.01,318.62 L133.65,318.28 L132.30,317.96 L130.94,317.63 L129.59,317.32 L128.23,317.02 L126.88,316.72 L125.52,316.44 L124.17,316.16 L122.82,315.88 L121.46,315.60 L120.11,315.32 L118.75,315.03 L117.40,314.73 L116.04,314.45 L114.69,314.21 L113.33,313.99 L111.98,313.79 L110.62,313.59 L109.27,313.41 L107.91,313.22 L106.56,313.04 L105.21,312.87 L103.85,312.69 L102.50,312.52 L101.14,312.34 L99.79,312.17 L98.43,312.01 L97.08,311.85 L95.72,311.70 L94.37,311.56 L93.01,311.42 L91.66,311.27 L90.30,311.13 L88.95,310.99 L87.59,310.84 L86.24,310.70 L84.89,310.55 L83.53,310.41 L82.18,310.27 L80.82,310.12 L79.47,309.98 L78.11,309.85 L76.76,309.71 L75.40,309.58 L74.05,309.45 L72.69,309.33 L71.34,309.21 L69.98,309.10 L68.63,309.00 L67.28,308.90 L65.92,308.81 L64.57,308.72 L63.21,308.63 L61.86,308.53 L60.50,308.44 L59.15,308.33 L57.79,308.21 L56.44,308.08 L55.08,307.97 L53.73,307.87 L52.37,307.79 L51.02,307.71 L49.67,307.63 L48.31,307.55 L46.96,307.47 L45.60,307.39 L44.25,307.32 L42.89,307.25 L41.54,307.18 L40.18,307.12 L38.83,307.05 L37.47,306.99 L36.12,306.94 L34.76,306.89 L33.41,306.85 L32.06,306.81 L30.70,306.78 L29.35,306.75 L27.99,306.73 L26.64,306.70 L25.28,306.68 L23.93,306.67 L22.57,306.65 L21.22,306.64 L19.86,306.62 L18.51,306.61 L17.15,306.60 L15.80,306.59 Z" fill="#ff0000"/>
<rect x="3.1" y="288.4" width="183.3" height="53.9" fill="none" stroke="#333333" stroke-width="1"/>
<rect x="235" y="149" width="203" height="99.6" fill="#c0c0c0"/>
<rect x="235" y="148.8" width="203" height="1.2" fill="#808080"/>
<rect x="235" y="247.1" width="203" height="1.5" fill="#acacac"/>
<rect x="256.5" y="240" width="53" height="14.7" fill="none" stroke="#333333" stroke-width="1"/>
<path d="M256.5,254.7 L229.5,292.4 M309.5,254.7 L391.7,292.4" stroke="#333333" stroke-width="1" fill="none"/>
<rect x="229.5" y="292.4" width="162.2" height="23.6" fill="#c0c0c0"/>
<rect x="229.5" y="315.6" width="162.2" height="1.4" fill="#c83030"/>
<rect x="229.5" y="317" width="162.2" height="0.8" fill="#8a7070"/>
<rect x="229.5" y="292.4" width="162.2" height="48.4" fill="none" stroke="#333333" stroke-width="1"/>
<text x="0.5" y="10.6" font-family='"Liberation Serif", serif' font-size="13.5" text-anchor="start" fill="#000" stroke="#000" stroke-width="0.12">a)</text>
<text x="234.8" y="9.7" font-family='"Liberation Serif", serif' font-size="13.5" text-anchor="start" fill="#000" stroke="#000" stroke-width="0.12">b)</text>
<text x="464.6" y="10.8" font-family='"Liberation Serif", serif' font-size="13.5" text-anchor="start" fill="#000" stroke="#000" stroke-width="0.12">c)</text>
<text x="-1.6" y="140.5" font-family='"Liberation Serif", serif' font-size="13.5" text-anchor="start" fill="#000" stroke="#000" stroke-width="0.12">d)</text>
<text x="229.6" y="142.8" font-family='"Liberation Serif", serif' font-size="13.5" text-anchor="start" fill="#000" stroke="#000" stroke-width="0.12">e)</text>
<text x="448.3" y="142.4" font-family='"Liberation Serif", serif' font-size="13.5" text-anchor="start" fill="#000" stroke="#000" stroke-width="0.12">f)</text>
<text x="184.6" y="105.9" font-family='"Liberation Serif", serif' font-size="14" text-anchor="start" fill="#000" stroke="#000" stroke-width="0.2" textLength="23.8" lengthAdjust="spacingAndGlyphs">80%</text>
<text x="409.5" y="106.1" font-family='"Liberation Serif", serif' font-size="14" text-anchor="start" fill="#000" stroke="#000" stroke-width="0.2" textLength="23.8" lengthAdjust="spacingAndGlyphs">60%</text>
<text x="635.2" y="112.7" font-family='"Liberation Serif", serif' font-size="14" text-anchor="start" fill="#000" stroke="#000" stroke-width="0.2" textLength="23.8" lengthAdjust="spacingAndGlyphs">40%</text>
<text x="188.4" y="242.5" font-family='"Liberation Serif", serif' font-size="14" text-anchor="start" fill="#000" stroke="#000" stroke-width="0.2" textLength="23.8" lengthAdjust="spacingAndGlyphs">20%</text>
<rect x="482" y="150.5" width="197.39999999999998" height="160.0" fill="none" stroke="#cfcfcf" stroke-width="0.8"/>
<path d="M485.10,310.5 L485.10,308.7 M485.10,150.5 L485.10,152.3 M517.52,310.5 L517.52,308.7 M517.52,150.5 L517.52,152.3 M549.94,310.5 L549.94,308.7 M549.94,150.5 L549.94,152.3 M582.36,310.5 L582.36,308.7 M582.36,150.5 L582.36,152.3 M614.78,310.5 L614.78,308.7 M614.78,150.5 L614.78,152.3 M647.20,310.5 L647.20,308.7 M647.20,150.5 L647.20,152.3 M679.62,310.5 L679.62,308.7 M679.62,150.5 L679.62,152.3 M482,310.50 L483.8,310.50 M679.4,310.50 L677.6,310.50 M482,280.92 L483.8,280.92 M679.4,280.92 L677.6,280.92 M482,251.34 L483.8,251.34 M679.4,251.34 L677.6,251.34 M482,221.76 L483.8,221.76 M679.4,221.76 L677.6,221.76 M482,192.18 L483.8,192.18 M679.4,192.18 L677.6,192.18 M482,162.60 L483.8,162.60 M679.4,162.60 L677.6,162.60 " stroke="#999" stroke-width="0.6" fill="none"/>
<text x="485.10" y="319.9" font-family='"Liberation Serif", serif' font-size="7.6" text-anchor="middle" fill="#3a3a3a" stroke="#3a3a3a" stroke-width="0.15">0</text>
<text x="517.52" y="319.9" font-family='"Liberation Serif", serif' font-size="7.6" text-anchor="middle" fill="#3a3a3a" stroke="#3a3a3a" stroke-width="0.15">20</text>
<text x="549.94" y="319.9" font-family='"Liberation Serif", serif' font-size="7.6" text-anchor="middle" fill="#3a3a3a" stroke="#3a3a3a" stroke-width="0.15">40</text>
<text x="582.36" y="319.9" font-family='"Liberation Serif", serif' font-size="7.6" text-anchor="middle" fill="#3a3a3a" stroke="#3a3a3a" stroke-width="0.15">60</text>
<text x="614.78" y="319.9" font-family='"Liberation Serif", serif' font-size="7.6" text-anchor="middle" fill="#3a3a3a" stroke="#3a3a3a" stroke-width="0.15">80</text>
<text x="647.20" y="319.9" font-family='"Liberation Serif", serif' font-size="7.6" text-anchor="middle" fill="#3a3a3a" stroke="#3a3a3a" stroke-width="0.15">100</text>
<text x="679.62" y="319.9" font-family='"Liberation Serif", serif' font-size="7.6" text-anchor="middle" fill="#3a3a3a" stroke="#3a3a3a" stroke-width="0.15">120</text>
<text x="480.0" y="313.10" font-family='"Liberation Serif", serif' font-size="7.6" text-anchor="end" fill="#3a3a3a" stroke="#3a3a3a" stroke-width="0.15">0</text>
<text x="480.0" y="283.52" font-family='"Liberation Serif", serif' font-size="7.6" text-anchor="end" fill="#3a3a3a" stroke="#3a3a3a" stroke-width="0.15">0.5</text>
<text x="480.0" y="253.94" font-family='"Liberation Serif", serif' font-size="7.6" text-anchor="end" fill="#3a3a3a" stroke="#3a3a3a" stroke-width="0.15">1</text>
<text x="480.0" y="224.36" font-family='"Liberation Serif", serif' font-size="7.6" text-anchor="end" fill="#3a3a3a" stroke="#3a3a3a" stroke-width="0.15">1.5</text>
<text x="480.0" y="194.78" font-family='"Liberation Serif", serif' font-size="7.6" text-anchor="end" fill="#3a3a3a" stroke="#3a3a3a" stroke-width="0.15">2</text>
<text x="480.0" y="165.20" font-family='"Liberation Serif", serif' font-size="7.6" text-anchor="end" fill="#3a3a3a" stroke="#3a3a3a" stroke-width="0.15">2.5</text>
<text x="482.2" y="148.7" font-family='"Liberation Serif", serif' font-size="7.3" text-anchor="start" fill="#3a3a3a" stroke="#3a3a3a" stroke-width="0.15">×</text>
<text x="487.6" y="148.7" font-family='"Liberation Serif", serif' font-size="7.3" text-anchor="start" fill="#3a3a3a" stroke="#3a3a3a" stroke-width="0.15">10</text>
<text x="495.9" y="145.8" font-family='"Liberation Serif", serif' font-size="5.6" text-anchor="start" fill="#3a3a3a" stroke="#3a3a3a" stroke-width="0.15">4</text>
<text x="563.9" y="335.0" font-family='"Liberation Serif", serif' font-size="12" text-anchor="start" fill="#000" textLength="41.4" lengthAdjust="spacing">Time (s)</text>
<text transform="translate(463.3,311.6) rotate(-90)" font-family='"Liberation Serif", serif' font-size="11.8" text-anchor="start" fill="#000" stroke="#000" stroke-width="0.08" textLength="147" lengthAdjust="spacing">Aggregate platelet size (<tspan font-weight="bold" font-style="italic">μ</tspan>m<tspan font-size="8" dy="-4.5">2</tspan><tspan dy="4.5">)</tspan></text>
<path d="M485.10,310.50 L485.22,310.20 L485.35,309.90 L485.47,309.60 L485.60,309.31 L485.72,309.03 L485.85,308.74 L485.97,308.47 L486.10,308.19 L486.22,307.92 L486.35,307.66 L486.47,307.40 L486.60,307.14 L486.72,306.89 L486.85,306.64 L486.97,306.39 L487.10,306.15 L487.22,305.91 L487.34,305.67 L487.47,305.44 L487.59,305.21 L487.72,304.99 L487.84,304.77 L487.97,304.55 L488.09,304.33 L488.22,304.12 L488.34,303.91 L488.47,303.71 L488.59,303.50 L488.72,303.30 L488.84,303.11 L488.97,302.91 L489.09,302.72 L489.21,302.53 L489.34,302.35 L489.46,302.17 L489.59,301.99 L489.71,301.81 L489.84,301.63 L489.96,301.46 L490.13,301.24 L490.59,300.64 L491.05,300.06 L491.52,299.52 L491.98,299.00 L492.45,298.51 L492.91,298.05 L493.38,297.62 L493.84,297.20 L494.30,296.81 L494.77,296.44 L495.23,296.08 L495.70,295.75 L496.16,295.43 L496.63,295.13 L497.09,294.85 L497.55,294.58 L498.02,294.32 L498.48,294.08 L498.95,293.84 L499.41,293.62 L499.88,293.42 L500.34,293.22 L500.80,293.03 L501.27,292.85 L501.73,292.68 L502.20,292.51 L502.66,292.36 L503.13,292.21 L503.59,292.07 L504.05,291.94 L504.52,291.81 L504.98,291.69 L505.45,291.57 L505.91,291.46 L506.38,291.35 L506.84,291.25 L507.30,291.15 L507.77,291.06 L508.23,290.97 L508.70,290.88 L509.16,290.80 L509.63,290.72 L510.09,290.65 L510.56,290.57 L511.02,290.50 L511.48,290.43 L511.95,290.37 L512.41,290.31 L512.88,290.25 L513.34,290.19 L513.81,290.13 L514.27,290.08 L514.73,290.02 L515.20,289.97 L515.66,289.92 L516.13,289.87 L516.59,289.83 L517.06,289.78 L517.52,289.74 L518.33,289.66 L519.69,289.54 L521.04,289.43 L522.40,289.33 L523.75,289.23 L525.11,289.14 L526.46,289.05 L527.82,288.96 L529.17,288.88 L530.53,288.79 L531.88,288.71 L533.24,288.64 L534.59,288.56 L535.95,288.49 L537.31,288.41 L538.66,288.34 L540.02,288.27 L541.37,288.19 L542.73,288.12 L544.08,288.05 L545.44,287.98 L546.79,287.91 L548.15,287.84 L549.50,287.77 L550.86,287.70 L552.21,287.63 L553.57,287.57 L554.93,287.50 L556.28,287.43 L557.64,287.36 L558.99,287.29 L560.35,287.22 L561.70,287.15 L563.06,287.08 L564.41,287.02 L565.77,286.95 L567.12,286.88 L568.48,286.81 L569.83,286.74 L571.19,286.67 L572.55,286.61 L573.90,286.54 L575.26,286.47 L576.61,286.40 L577.97,286.33 L579.32,286.26 L580.68,286.20 L582.03,286.13 L583.39,286.06 L584.74,285.99 L586.10,285.92 L587.45,285.85 L588.81,285.79 L590.17,285.72 L591.52,285.65 L592.88,285.58 L594.23,285.51 L595.59,285.44 L596.94,285.38 L598.30,285.31 L599.65,285.24 L601.01,285.17 L602.36,285.10 L603.72,285.03 L605.07,284.97 L606.43,284.90 L607.79,284.83 L609.14,284.76 L610.50,284.69 L611.85,284.62 L613.21,284.56 L614.56,284.49 L615.92,284.42 L617.27,284.35 L618.63,284.28 L619.98,284.21 L621.34,284.15 L622.69,284.08 L624.05,284.01 L625.41,283.94 L626.76,283.87 L628.12,283.80 L629.47,283.74 L630.83,283.67 L632.18,283.60 L633.54,283.53 L634.89,283.46 L636.25,283.39 L637.60,283.33 L638.96,283.26 L640.31,283.19 L641.67,283.12 L643.02,283.05 L644.38,282.98 L645.74,282.92 L647.09,282.85 L648.45,282.78 L649.80,282.71 L651.16,282.64 L652.51,282.58 L653.87,282.51 L655.22,282.44 L656.58,282.37 L657.93,282.30 L659.29,282.23 L660.64,282.17 L662.00,282.10 L663.36,282.03 L664.71,281.96 L666.07,281.89 L667.42,281.82 L668.78,281.76 L670.13,281.69 L671.49,281.62 L672.84,281.55 L674.20,281.48 L675.55,281.41 L676.91,281.35 L678.26,281.28 L679.62,281.21" fill="none" stroke="#0072bd" stroke-width="1.0" stroke-linejoin="round"/>
<path d="M485.10,310.50 L485.22,310.00 L485.35,309.53 L485.47,309.08 L485.60,308.64 L485.72,308.22 L485.85,307.81 L485.97,307.41 L486.10,307.02 L486.22,306.65 L486.35,306.28 L486.47,305.93 L486.60,305.58 L486.72,305.25 L486.85,304.92 L486.97,304.60 L487.10,304.29 L487.22,303.98 L487.34,303.69 L487.47,303.40 L487.59,303.12 L487.72,302.84 L487.84,302.57 L487.97,302.31 L488.09,302.05 L488.22,301.80 L488.34,301.56 L488.47,301.32 L488.59,301.08 L488.72,300.86 L488.84,300.63 L488.97,300.41 L489.09,300.20 L489.21,299.99 L489.34,299.78 L489.46,299.58 L489.59,299.38 L489.71,299.19 L489.84,299.00 L489.96,298.81 L490.13,298.57 L490.59,297.92 L491.05,297.32 L491.52,296.75 L491.98,296.22 L492.45,295.72 L492.91,295.25 L493.38,294.80 L493.84,294.38 L494.30,293.99 L494.77,293.61 L495.23,293.25 L495.70,292.91 L496.16,292.59 L496.63,292.28 L497.09,291.98 L497.55,291.70 L498.02,291.43 L498.48,291.17 L498.95,290.93 L499.41,290.69 L499.88,290.46 L500.34,290.25 L500.80,290.04 L501.27,289.84 L501.73,289.64 L502.20,289.45 L502.66,289.27 L503.13,289.10 L503.59,288.93 L504.05,288.77 L504.52,288.61 L504.98,288.46 L505.45,288.31 L505.91,288.17 L506.38,288.03 L506.84,287.90 L507.30,287.76 L507.77,287.64 L508.23,287.51 L508.70,287.39 L509.16,287.27 L509.63,287.16 L510.09,287.04 L510.56,286.93 L511.02,286.82 L511.48,286.72 L511.95,286.61 L512.41,286.51 L512.88,286.41 L513.34,286.31 L513.81,286.21 L514.27,286.12 L514.73,286.03 L515.20,285.93 L515.66,285.84 L516.13,285.75 L516.59,285.66 L517.06,285.58 L517.52,285.49 L518.33,285.34 L519.69,285.10 L521.04,284.86 L522.40,284.63 L523.75,284.40 L525.11,284.18 L526.46,283.96 L527.82,283.75 L529.17,283.54 L530.53,283.32 L531.88,283.11 L533.24,282.91 L534.59,282.70 L535.95,282.49 L537.31,282.29 L538.66,282.08 L540.02,281.88 L541.37,281.68 L542.73,281.48 L544.08,281.27 L545.44,281.07 L546.79,280.87 L548.15,280.67 L549.50,280.47 L550.86,280.27 L552.21,280.07 L553.57,279.87 L554.93,279.67 L556.28,279.47 L557.64,279.27 L558.99,279.07 L560.35,278.87 L561.70,278.67 L563.06,278.47 L564.41,278.27 L565.77,278.07 L567.12,277.87 L568.48,277.67 L569.83,277.47 L571.19,277.27 L572.55,277.07 L573.90,276.87 L575.26,276.67 L576.61,276.47 L577.97,276.27 L579.32,276.07 L580.68,275.86 L582.03,275.66 L583.39,275.46 L584.74,275.26 L586.10,275.06 L587.45,274.86 L588.81,274.66 L590.17,274.46 L591.52,274.26 L592.88,274.06 L594.23,273.86 L595.59,273.66 L596.94,273.46 L598.30,273.26 L599.65,273.06 L601.01,272.86 L602.36,272.66 L603.72,272.46 L605.07,272.25 L606.43,272.05 L607.79,271.85 L609.14,271.65 L610.50,271.45 L611.85,271.25 L613.21,271.05 L614.56,270.85 L615.92,270.65 L617.27,270.44 L618.63,270.24 L619.98,270.04 L621.34,269.84 L622.69,269.64 L624.05,269.44 L625.41,269.24 L626.76,269.03 L628.12,268.83 L629.47,268.63 L630.83,268.43 L632.18,268.23 L633.54,268.02 L634.89,267.82 L636.25,267.62 L637.60,267.42 L638.96,267.22 L640.31,267.01 L641.67,266.81 L643.02,266.61 L644.38,266.41 L645.74,266.20 L647.09,266.00 L648.45,265.80 L649.80,265.59 L651.16,265.39 L652.51,265.19 L653.87,264.99 L655.22,264.78 L656.58,264.58 L657.93,264.38 L659.29,264.17 L660.64,263.97 L662.00,263.77 L663.36,263.56 L664.71,263.36 L666.07,263.16 L667.42,262.95 L668.78,262.75 L670.13,262.55 L671.49,262.34 L672.84,262.14 L674.20,261.93 L675.55,261.73 L676.91,261.53 L678.26,261.32 L679.62,261.12" fill="none" stroke="#d95319" stroke-width="1.0" stroke-linejoin="round"/>
<path d="M485.10,310.50 L485.22,309.71 L485.35,309.13 L485.47,308.59 L485.60,308.07 L485.72,307.59 L485.85,307.12 L485.97,306.67 L486.10,306.24 L486.22,305.82 L486.35,305.42 L486.47,305.03 L486.60,304.65 L486.72,304.29 L486.85,303.93 L486.97,303.59 L487.10,303.26 L487.22,302.93 L487.34,302.62 L487.47,302.31 L487.59,302.02 L487.72,301.73 L487.84,301.44 L487.97,301.17 L488.09,300.90 L488.22,300.64 L488.34,300.39 L488.47,300.14 L488.59,299.90 L488.72,299.66 L488.84,299.43 L488.97,299.21 L489.09,298.99 L489.21,298.77 L489.34,298.56 L489.46,298.36 L489.59,298.16 L489.71,297.96 L489.84,297.77 L489.96,297.58 L490.13,297.34 L490.59,296.68 L491.05,296.07 L491.52,295.50 L491.98,294.97 L492.45,294.46 L492.91,293.99 L493.38,293.54 L493.84,293.11 L494.30,292.70 L494.77,292.31 L495.23,291.94 L495.70,291.59 L496.16,291.25 L496.63,290.93 L497.09,290.61 L497.55,290.31 L498.02,290.02 L498.48,289.74 L498.95,289.47 L499.41,289.21 L499.88,288.96 L500.34,288.72 L500.80,288.48 L501.27,288.25 L501.73,288.02 L502.20,287.80 L502.66,287.59 L503.13,287.39 L503.59,287.18 L504.05,286.99 L504.52,286.79 L504.98,286.61 L505.45,286.42 L505.91,286.24 L506.38,286.07 L506.84,285.89 L507.30,285.72 L507.77,285.56 L508.23,285.39 L508.70,285.23 L509.16,285.07 L509.63,284.92 L510.09,284.76 L510.56,284.61 L511.02,284.46 L511.48,284.31 L511.95,284.17 L512.41,284.02 L512.88,283.88 L513.34,283.74 L513.81,283.60 L514.27,283.47 L514.73,283.33 L515.20,283.20 L515.66,283.06 L516.13,282.93 L516.59,282.80 L517.06,282.67 L517.52,282.54 L518.33,282.32 L519.69,281.95 L521.04,281.59 L522.40,281.24 L523.75,280.89 L525.11,280.54 L526.46,280.20 L527.82,279.87 L529.17,279.53 L530.53,279.20 L531.88,278.87 L533.24,278.55 L534.59,278.22 L535.95,277.90 L537.31,277.58 L538.66,277.26 L540.02,276.94 L541.37,276.62 L542.73,276.30 L544.08,275.99 L545.44,275.67 L546.79,275.36 L548.15,275.05 L549.50,274.73 L550.86,274.42 L552.21,274.11 L553.57,273.80 L554.93,273.49 L556.28,273.18 L557.64,272.87 L558.99,272.57 L560.35,272.26 L561.70,271.95 L563.06,271.64 L564.41,271.34 L565.77,271.03 L567.12,270.73 L568.48,270.42 L569.83,270.12 L571.19,269.81 L572.55,269.51 L573.90,269.20 L575.26,268.90 L576.61,268.60 L577.97,268.29 L579.32,267.99 L580.68,267.69 L582.03,267.39 L583.39,267.09 L584.74,266.78 L586.10,266.48 L587.45,266.18 L588.81,265.88 L590.17,265.58 L591.52,265.28 L592.88,264.98 L594.23,264.68 L595.59,264.38 L596.94,264.08 L598.30,263.78 L599.65,263.48 L601.01,263.18 L602.36,262.88 L603.72,262.58 L605.07,262.28 L606.43,261.98 L607.79,261.68 L609.14,261.38 L610.50,261.08 L611.85,260.78 L613.21,260.48 L614.56,260.19 L615.92,259.89 L617.27,259.59 L618.63,259.29 L619.98,258.99 L621.34,258.69 L622.69,258.39 L624.05,258.10 L625.41,257.80 L626.76,257.50 L628.12,257.20 L629.47,256.90 L630.83,256.61 L632.18,256.31 L633.54,256.01 L634.89,255.71 L636.25,255.41 L637.60,255.12 L638.96,254.82 L640.31,254.52 L641.67,254.22 L643.02,253.93 L644.38,253.63 L645.74,253.33 L647.09,253.03 L648.45,252.73 L649.80,252.44 L651.16,252.14 L652.51,251.84 L653.87,251.54 L655.22,251.25 L656.58,250.95 L657.93,250.65 L659.29,250.35 L660.64,250.05 L662.00,249.76 L663.36,249.46 L664.71,249.16 L666.07,248.86 L667.42,248.56 L668.78,248.27 L670.13,247.97 L671.49,247.67 L672.84,247.37 L674.20,247.07 L675.55,246.77 L676.91,246.48 L678.26,246.18 L679.62,245.88" fill="none" stroke="#edb120" stroke-width="1.0" stroke-linejoin="round"/>
<path d="M485.10,310.50 L485.22,309.45 L485.35,308.77 L485.47,308.17 L485.60,307.61 L485.72,307.09 L485.85,306.59 L485.97,306.12 L486.10,305.66 L486.22,305.23 L486.35,304.81 L486.47,304.40 L486.60,304.01 L486.72,303.64 L486.85,303.27 L486.97,302.92 L487.10,302.58 L487.22,302.25 L487.34,301.93 L487.47,301.61 L487.59,301.31 L487.72,301.02 L487.84,300.73 L487.97,300.45 L488.09,300.18 L488.22,299.92 L488.34,299.66 L488.47,299.41 L488.59,299.16 L488.72,298.92 L488.84,298.69 L488.97,298.46 L489.09,298.24 L489.21,298.02 L489.34,297.81 L489.46,297.60 L489.59,297.39 L489.71,297.19 L489.84,297.00 L489.96,296.81 L490.13,296.56 L490.59,295.90 L491.05,295.28 L491.52,294.69 L491.98,294.15 L492.45,293.63 L492.91,293.14 L493.38,292.67 L493.84,292.23 L494.30,291.80 L494.77,291.40 L495.23,291.01 L495.70,290.64 L496.16,290.28 L496.63,289.93 L497.09,289.59 L497.55,289.27 L498.02,288.96 L498.48,288.65 L498.95,288.36 L499.41,288.07 L499.88,287.79 L500.34,287.52 L500.80,287.25 L501.27,286.99 L501.73,286.74 L502.20,286.49 L502.66,286.25 L503.13,286.02 L503.59,285.78 L504.05,285.56 L504.52,285.33 L504.98,285.11 L505.45,284.90 L505.91,284.69 L506.38,284.48 L506.84,284.27 L507.30,284.07 L507.77,283.87 L508.23,283.68 L508.70,283.48 L509.16,283.29 L509.63,283.10 L510.09,282.92 L510.56,282.73 L511.02,282.55 L511.48,282.37 L511.95,282.20 L512.41,282.02 L512.88,281.84 L513.34,281.67 L513.81,281.50 L514.27,281.33 L514.73,281.16 L515.20,281.00 L515.66,280.83 L516.13,280.67 L516.59,280.50 L517.06,280.34 L517.52,280.18 L518.33,279.90 L519.69,279.44 L521.04,278.99 L522.40,278.54 L523.75,278.10 L525.11,277.67 L526.46,277.24 L527.82,276.81 L529.17,276.39 L530.53,275.97 L531.88,275.55 L533.24,275.14 L534.59,274.73 L535.95,274.32 L537.31,273.92 L538.66,273.51 L540.02,273.11 L541.37,272.71 L542.73,272.31 L544.08,271.92 L545.44,271.52 L546.79,271.13 L548.15,270.73 L549.50,270.34 L550.86,269.95 L552.21,269.56 L553.57,269.17 L554.93,268.79 L556.28,268.40 L557.64,268.01 L558.99,267.63 L560.35,267.24 L561.70,266.86 L563.06,266.48 L564.41,266.09 L565.77,265.71 L567.12,265.33 L568.48,264.95 L569.83,264.57 L571.19,264.19 L572.55,263.81 L573.90,263.43 L575.26,263.06 L576.61,262.68 L577.97,262.30 L579.32,261.92 L580.68,261.55 L582.03,261.17 L583.39,260.79 L584.74,260.42 L586.10,260.04 L587.45,259.67 L588.81,259.29 L590.17,258.92 L591.52,258.54 L592.88,258.17 L594.23,257.80 L595.59,257.42 L596.94,257.05 L598.30,256.67 L599.65,256.30 L601.01,255.93 L602.36,255.55 L603.72,255.18 L605.07,254.81 L606.43,254.43 L607.79,254.06 L609.14,253.69 L610.50,253.31 L611.85,252.94 L613.21,252.57 L614.56,252.20 L615.92,251.82 L617.27,251.45 L618.63,251.08 L619.98,250.70 L621.34,250.33 L622.69,249.96 L624.05,249.59 L625.41,249.21 L626.76,248.84 L628.12,248.47 L629.47,248.09 L630.83,247.72 L632.18,247.35 L633.54,246.97 L634.89,246.60 L636.25,246.23 L637.60,245.85 L638.96,245.48 L640.31,245.10 L641.67,244.73 L643.02,244.36 L644.38,243.98 L645.74,243.61 L647.09,243.23 L648.45,242.86 L649.80,242.48 L651.16,242.11 L652.51,241.73 L653.87,241.36 L655.22,240.98 L656.58,240.61 L657.93,240.23 L659.29,239.85 L660.64,239.48 L662.00,239.10 L663.36,238.72 L664.71,238.35 L666.07,237.97 L667.42,237.59 L668.78,237.21 L670.13,236.84 L671.49,236.46 L672.84,236.08 L674.20,235.70 L675.55,235.32 L676.91,234.95 L678.26,234.57 L679.62,234.19" fill="none" stroke="#7e2f8e" stroke-width="1.0" stroke-linejoin="round"/>
<path d="M485.10,310.50 L485.22,308.64 L485.35,307.81 L485.47,307.15 L485.60,306.58 L485.72,306.06 L485.85,305.59 L485.97,305.15 L486.10,304.73 L486.22,304.33 L486.35,303.96 L486.47,303.59 L486.60,303.24 L486.72,302.91 L486.85,302.58 L486.97,302.26 L487.10,301.96 L487.22,301.66 L487.34,301.37 L487.47,301.08 L487.59,300.80 L487.72,300.53 L487.84,300.26 L487.97,300.00 L488.09,299.75 L488.22,299.50 L488.34,299.25 L488.47,299.01 L488.59,298.77 L488.72,298.54 L488.84,298.31 L488.97,298.08 L489.09,297.86 L489.21,297.64 L489.34,297.42 L489.46,297.21 L489.59,297.00 L489.71,296.80 L489.84,296.59 L489.96,296.39 L490.13,296.13 L490.59,295.42 L491.05,294.74 L491.52,294.09 L491.98,293.47 L492.45,292.87 L492.91,292.29 L493.38,291.73 L493.84,291.19 L494.30,290.67 L494.77,290.17 L495.23,289.68 L495.70,289.21 L496.16,288.75 L496.63,288.30 L497.09,287.87 L497.55,287.44 L498.02,287.03 L498.48,286.63 L498.95,286.23 L499.41,285.85 L499.88,285.47 L500.34,285.11 L500.80,284.74 L501.27,284.39 L501.73,284.05 L502.20,283.71 L502.66,283.37 L503.13,283.04 L503.59,282.72 L504.05,282.41 L504.52,282.09 L504.98,281.79 L505.45,281.49 L505.91,281.19 L506.38,280.90 L506.84,280.61 L507.30,280.32 L507.77,280.04 L508.23,279.76 L508.70,279.49 L509.16,279.22 L509.63,278.95 L510.09,278.68 L510.56,278.42 L511.02,278.16 L511.48,277.90 L511.95,277.65 L512.41,277.40 L512.88,277.15 L513.34,276.90 L513.81,276.66 L514.27,276.41 L514.73,276.17 L515.20,275.93 L515.66,275.70 L516.13,275.46 L516.59,275.23 L517.06,275.00 L517.52,274.77 L518.33,274.37 L519.69,273.71 L521.04,273.07 L522.40,272.43 L523.75,271.81 L525.11,271.19 L526.46,270.59 L527.82,269.98 L529.17,269.39 L530.53,268.80 L531.88,268.22 L533.24,267.64 L534.59,267.07 L535.95,266.50 L537.31,265.94 L538.66,265.38 L540.02,264.82 L541.37,264.27 L542.73,263.72 L544.08,263.18 L545.44,262.63 L546.79,262.09 L548.15,261.55 L549.50,261.01 L550.86,260.48 L552.21,259.95 L553.57,259.41 L554.93,258.88 L556.28,258.36 L557.64,257.83 L558.99,257.30 L560.35,256.78 L561.70,256.26 L563.06,255.73 L564.41,255.21 L565.77,254.69 L567.12,254.17 L568.48,253.65 L569.83,253.13 L571.19,252.61 L572.55,252.09 L573.90,251.58 L575.26,251.06 L576.61,250.54 L577.97,250.02 L579.32,249.51 L580.68,248.99 L582.03,248.47 L583.39,247.95 L584.74,247.44 L586.10,246.92 L587.45,246.40 L588.81,245.88 L590.17,245.36 L591.52,244.85 L592.88,244.33 L594.23,243.81 L595.59,243.29 L596.94,242.77 L598.30,242.24 L599.65,241.72 L601.01,241.20 L602.36,240.68 L603.72,240.15 L605.07,239.63 L606.43,239.10 L607.79,238.58 L609.14,238.05 L610.50,237.52 L611.85,237.00 L613.21,236.47 L614.56,235.94 L615.92,235.41 L617.27,234.87 L618.63,234.34 L619.98,233.81 L621.34,233.27 L622.69,232.74 L624.05,232.20 L625.41,231.66 L626.76,231.12 L628.12,230.58 L629.47,230.04 L630.83,229.50 L632.18,228.95 L633.54,228.41 L634.89,227.86 L636.25,227.31 L637.60,226.77 L638.96,226.22 L640.31,225.66 L641.67,225.11 L643.02,224.56 L644.38,224.00 L645.74,223.45 L647.09,222.89 L648.45,222.33 L649.80,221.77 L651.16,221.21 L652.51,220.64 L653.87,220.08 L655.22,219.51 L656.58,218.95 L657.93,218.38 L659.29,217.81 L660.64,217.23 L662.00,216.66 L663.36,216.09 L664.71,215.51 L666.07,214.93 L667.42,214.35 L668.78,213.77 L670.13,213.19 L671.49,212.60 L672.84,212.02 L674.20,211.43 L675.55,210.84 L676.91,210.25 L678.26,209.66 L679.62,209.07" fill="none" stroke="#77ac30" stroke-width="1.0" stroke-linejoin="round"/>
<rect x="621.2" y="164.6" width="23.399999999999977" height="40.900000000000006" fill="#fff" stroke="#d0d0d0" stroke-width="0.8"/>
<path d="M622.3,169.30 L629.7,169.30" stroke="#0072bd" stroke-width="1"/>
<text x="631.7" y="171.50" font-family='"Liberation Serif", serif' font-size="6.6" text-anchor="start" fill="#3a3a3a" stroke="#3a3a3a" stroke-width="0.15">0%</text>
<path d="M622.3,177.28 L629.7,177.28" stroke="#d95319" stroke-width="1"/>
<text x="631.7" y="179.48" font-family='"Liberation Serif", serif' font-size="6.6" text-anchor="start" fill="#3a3a3a" stroke="#3a3a3a" stroke-width="0.15">20%</text>
<path d="M622.3,185.26 L629.7,185.26" stroke="#edb120" stroke-width="1"/>
<text x="631.7" y="187.46" font-family='"Liberation Serif", serif' font-size="6.6" text-anchor="start" fill="#3a3a3a" stroke="#3a3a3a" stroke-width="0.15">40%</text>
<path d="M622.3,193.24 L629.7,193.24" stroke="#7e2f8e" stroke-width="1"/>
<text x="631.7" y="195.44" font-family='"Liberation Serif", serif' font-size="6.6" text-anchor="start" fill="#3a3a3a" stroke="#3a3a3a" stroke-width="0.15">60%</text>
<path d="M622.3,201.22 L629.7,201.22" stroke="#77ac30" stroke-width="1"/>
<text x="631.7" y="203.42" font-family='"Liberation Serif", serif' font-size="6.6" text-anchor="start" fill="#3a3a3a" stroke="#3a3a3a" stroke-width="0.15">80%</text>
</svg>
</body></html>
